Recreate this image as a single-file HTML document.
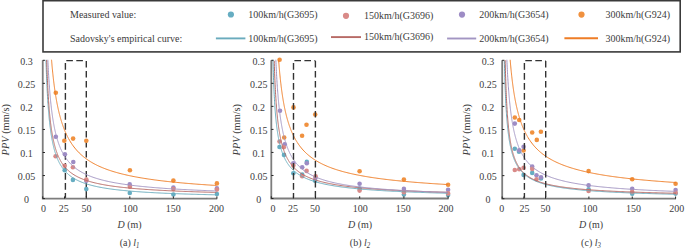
<!DOCTYPE html>
<html><head><meta charset="utf-8"><style>
html,body{margin:0;padding:0;background:#fff;}
svg{display:block;}
text{font-family:"Liberation Serif", serif;font-size:10px;fill:#3c3c3c;}
</style></head><body>
<svg width="685" height="249" viewBox="0 0 685 249">
<rect x="43" y="0.7" width="637.2" height="51.2" fill="none" stroke="#3a3a3a" stroke-width="1.6"/>
<text transform="translate(70,17.7) scale(1,1.07)" text-anchor="start" >Measured value:</text>
<text transform="translate(70,41.7) scale(1,1.07)" text-anchor="start" >Sadovsky's empirical curve:</text>
<circle cx="230.9" cy="14.5" r="3.1" fill="#66adc2"/>
<text transform="translate(248.2,17.9) scale(1,1.07)" text-anchor="start" >100km/h(G3695)</text>
<line x1="215.9" y1="38.4" x2="245.4" y2="38.4" stroke="#6aabbd" stroke-width="1.9"/>
<text transform="translate(248.2,41.9) scale(1,1.07)" text-anchor="start" >100km/h(G3695)</text>
<circle cx="346.0" cy="15.8" r="3.1" fill="#d98a88"/>
<text transform="translate(363.9,19.4) scale(1,1.07)" text-anchor="start" >150km/h(G3696)</text>
<line x1="331.0" y1="37.1" x2="361.0" y2="37.1" stroke="#b76a65" stroke-width="1.9"/>
<text transform="translate(363.9,40.2) scale(1,1.07)" text-anchor="start" >150km/h(G3696)</text>
<circle cx="462.0" cy="14.6" r="3.1" fill="#9d8cc5"/>
<text transform="translate(479.2,18.1) scale(1,1.07)" text-anchor="start" >200km/h(G3654)</text>
<line x1="447.1" y1="38.5" x2="476.2" y2="38.5" stroke="#a295c2" stroke-width="1.9"/>
<text transform="translate(479.2,42.0) scale(1,1.07)" text-anchor="start" >200km/h(G3654)</text>
<circle cx="581.5" cy="14.6" r="3.1" fill="#f0913f"/>
<text transform="translate(605.6,18.1) scale(1,1.07)" text-anchor="start" >300km/h(G924)</text>
<line x1="564.4" y1="38.3" x2="598.0" y2="38.3" stroke="#ee7d26" stroke-width="1.9"/>
<text transform="translate(605.6,42.0) scale(1,1.07)" text-anchor="start" >300km/h(G924)</text>
<clipPath id="ca"><rect x="42.75" y="59.8" width="175.15" height="138.8"/></clipPath>
<line x1="65.4" y1="60.599999999999994" x2="65.4" y2="198.6" fill="none" stroke="#333" stroke-width="1.4" stroke-dasharray="6.6,3.4" stroke-dashoffset="7.5"/><line x1="65.4" y1="60.599999999999994" x2="86.3" y2="60.599999999999994" fill="none" stroke="#333" stroke-width="1.4" stroke-dasharray="6.6,3.4" stroke-dashoffset="9.1"/><line x1="86.3" y1="60.599999999999994" x2="86.3" y2="198.6" fill="none" stroke="#333" stroke-width="1.4" stroke-dasharray="6.6,3.4" stroke-dashoffset="9.7"/>
<circle cx="55.8" cy="92.7" r="2.3" fill="#f0913f"/>
<circle cx="64.3" cy="140.7" r="2.3" fill="#f0913f"/>
<circle cx="73.1" cy="138.6" r="2.3" fill="#f0913f"/>
<circle cx="86.3" cy="140.8" r="2.3" fill="#f0913f"/>
<circle cx="129.9" cy="170.2" r="2.3" fill="#f0913f"/>
<circle cx="173.4" cy="180.6" r="2.3" fill="#f0913f"/>
<circle cx="216.9" cy="183.4" r="2.3" fill="#f0913f"/>
<circle cx="64.7" cy="170.3" r="2.3" fill="#66adc2"/>
<circle cx="72.9" cy="179.9" r="2.3" fill="#66adc2"/>
<circle cx="86.3" cy="189.1" r="2.3" fill="#66adc2"/>
<circle cx="129.8" cy="193.0" r="2.3" fill="#66adc2"/>
<circle cx="173.4" cy="194.5" r="2.3" fill="#66adc2"/>
<circle cx="216.9" cy="194.0" r="2.3" fill="#66adc2"/>
<circle cx="55.8" cy="136.7" r="2.3" fill="#9d8cc5"/>
<circle cx="64.9" cy="154.3" r="2.3" fill="#9d8cc5"/>
<circle cx="73.3" cy="162.0" r="2.3" fill="#9d8cc5"/>
<circle cx="86.3" cy="180.8" r="2.3" fill="#9d8cc5"/>
<circle cx="129.7" cy="184.4" r="2.3" fill="#9d8cc5"/>
<circle cx="173.4" cy="187.6" r="2.3" fill="#9d8cc5"/>
<circle cx="216.9" cy="188.4" r="2.3" fill="#9d8cc5"/>
<circle cx="55.6" cy="156.2" r="2.3" fill="#d98a88"/>
<circle cx="64.7" cy="165.8" r="2.3" fill="#d98a88"/>
<circle cx="72.9" cy="167.3" r="2.3" fill="#d98a88"/>
<circle cx="86.3" cy="179.6" r="2.3" fill="#d98a88"/>
<circle cx="129.9" cy="186.8" r="2.3" fill="#d98a88"/>
<circle cx="173.4" cy="189.1" r="2.3" fill="#d98a88"/>
<circle cx="216.9" cy="189.6" r="2.3" fill="#d98a88"/>
<polyline points="45.96,59.15 46.05,61.99 46.13,64.71 46.22,67.31 46.31,69.81 46.39,72.20 46.48,74.50 46.57,76.71 46.65,78.84 46.74,80.89 46.83,82.86 46.91,84.76 47.00,86.60 47.09,88.38 47.17,90.09 47.26,91.75 47.35,93.36 47.43,94.92 47.52,96.42 47.61,97.88 47.69,99.30 47.78,100.67 47.87,102.01 47.95,103.30 48.04,104.56 48.13,105.79 48.22,106.98 48.30,108.14 48.39,109.27 48.48,110.37 48.56,111.44 48.65,112.48 48.74,113.50 48.82,114.49 48.91,115.46 49.00,116.40 49.08,117.32 49.17,118.22 49.26,119.10 49.34,119.96 49.43,120.80 49.52,121.62 49.60,122.43 49.69,123.21 49.78,123.98 49.86,124.73 49.95,125.47 50.04,126.19 50.12,126.90 50.21,127.59 50.30,128.27 50.38,128.93 50.47,129.58 50.56,130.22 50.64,130.85 50.73,131.46 50.82,132.07 50.90,132.66 50.99,133.24 51.08,133.81 51.16,134.37 51.25,134.92 51.34,135.46 51.42,135.99 51.51,136.51 51.60,137.03 51.69,137.53 51.77,138.02 51.86,138.51 51.95,138.99 52.03,139.46 52.12,139.92 52.21,140.38 52.29,140.83 52.38,141.27 52.47,141.70 52.55,142.13 52.64,142.55 52.73,142.97 52.81,143.37 52.90,143.78 52.99,144.17 53.07,144.56 53.16,144.95 53.25,145.32 53.33,145.70 53.42,146.06 53.51,146.43 53.59,146.78 53.68,147.14 53.77,147.48 53.85,147.83 53.94,148.16 54.03,148.50 54.11,148.83 54.20,149.15 54.29,149.47 54.37,149.79 54.46,150.10 54.55,150.40 54.63,150.71 54.72,151.01 54.81,151.30 54.89,151.59 54.98,151.88 55.07,152.17 55.16,152.45 55.24,152.72 55.33,153.00 55.42,153.27 55.50,153.54 55.59,153.80 55.68,154.06 55.76,154.32 55.85,154.57 55.94,154.83 56.02,155.08 56.11,155.32 56.20,155.56 56.28,155.80 56.37,156.04 56.46,156.28 56.54,156.51 56.63,156.74 56.72,156.97 56.80,157.19 56.89,157.41 56.98,157.63 57.06,157.85 57.15,158.06 57.24,158.28 57.32,158.49 57.41,158.70 57.50,158.90 57.58,159.10 57.67,159.31 57.76,159.51 57.84,159.70 57.93,159.90 58.02,160.09 58.10,160.28 58.19,160.47 58.28,160.66 58.36,160.85 58.45,161.03 58.54,161.21 58.63,161.39 58.71,161.57 58.80,161.75 58.89,161.92 58.97,162.10 59.06,162.27 59.15,162.44 59.23,162.61 59.32,162.77 59.41,162.94 59.49,163.10 59.58,163.26 59.67,163.42 59.75,163.58 59.84,163.74 59.93,163.90 60.01,164.05 60.10,164.21 60.19,164.36 60.27,164.51 60.36,164.66 60.45,164.81 60.53,164.95 60.62,165.10 60.71,165.24 60.79,165.38 60.88,165.53 60.97,165.67 61.05,165.81 61.14,165.94 61.23,166.08 61.31,166.22 61.40,166.35 61.49,166.48 61.57,166.62 61.66,166.75 61.75,166.88 61.84,167.01 61.92,167.13 62.01,167.26 62.10,167.39 62.18,167.51 62.27,167.64 62.36,167.76 62.44,167.88 62.53,168.00 62.62,168.12 62.70,168.24 62.79,168.36 62.88,168.47 62.96,168.59 63.05,168.71 63.14,168.82 63.22,168.93 63.31,169.05 63.40,169.16 63.48,169.27 63.57,169.38 63.66,169.49 63.74,169.60 63.83,169.70 63.92,169.81 64.00,169.92 64.09,170.02 64.18,170.13 64.26,170.23 64.35,170.33 64.44,170.44 64.52,170.54 64.61,170.64 64.70,170.74 64.78,170.84 64.87,170.94 64.96,171.03 65.04,171.13 65.13,171.23 65.22,171.32 65.31,171.42 65.39,171.51 65.48,171.61 65.57,171.70 65.65,171.79 65.74,171.88 65.83,171.97 65.91,172.06 66.00,172.15 66.09,172.24 66.17,172.33 66.26,172.42 66.35,172.51 66.43,172.59 66.52,172.68 66.61,172.77 66.69,172.85 66.78,172.94 66.87,173.02 66.95,173.10 67.04,173.19 67.13,173.27 67.21,173.35 67.30,173.43 67.39,173.51 67.47,173.59 67.56,173.67 67.65,173.75 67.73,173.83 67.82,173.91 67.91,173.99 67.99,174.06 68.08,174.14 68.17,174.22 68.25,174.29 68.34,174.37 68.43,174.44 68.51,174.52 68.60,174.59 68.69,174.67 68.78,174.74 69.64,175.45 70.51,176.11 71.38,176.74 72.25,177.33 73.11,177.90 73.98,178.43 74.85,178.94 75.72,179.42 76.58,179.88 77.45,180.31 78.32,180.73 79.19,181.13 80.05,181.51 80.92,181.88 81.79,182.23 82.66,182.56 83.52,182.89 84.39,183.20 85.26,183.49 86.13,183.78 86.99,184.06 87.86,184.32 88.73,184.58 89.60,184.83 90.46,185.07 91.33,185.30 92.20,185.52 93.07,185.74 93.93,185.95 94.80,186.15 95.67,186.34 96.54,186.53 97.40,186.72 98.27,186.90 99.14,187.07 100.01,187.24 100.87,187.40 101.74,187.56 102.61,187.72 103.48,187.87 104.34,188.02 105.21,188.16 106.08,188.30 106.95,188.43 107.81,188.57 108.68,188.69 109.55,188.82 110.42,188.94 111.28,189.06 112.15,189.18 113.02,189.29 113.89,189.40 114.75,189.51 115.62,189.62 116.49,189.72 117.36,189.82 118.22,189.92 119.09,190.02 119.96,190.11 120.83,190.21 121.69,190.30 122.56,190.39 123.43,190.47 124.30,190.56 125.16,190.64 126.03,190.73 126.90,190.81 127.77,190.88 128.63,190.96 129.50,191.04 130.37,191.11 131.24,191.18 132.10,191.26 132.97,191.33 133.84,191.40 134.71,191.46 135.57,191.53 136.44,191.59 137.31,191.66 138.18,191.72 139.04,191.78 139.91,191.84 140.78,191.90 141.65,191.96 142.51,192.02 143.38,192.08 144.25,192.13 145.12,192.19 145.98,192.24 146.85,192.29 147.72,192.35 148.59,192.40 149.45,192.45 150.32,192.50 151.19,192.55 152.06,192.59 152.92,192.64 153.79,192.69 154.66,192.74 155.53,192.78 156.39,192.83 157.26,192.87 158.13,192.91 159.00,192.96 159.86,193.00 160.73,193.04 161.60,193.08 162.47,193.12 163.33,193.16 164.20,193.20 165.07,193.24 165.94,193.28 166.80,193.31 167.67,193.35 168.54,193.39 169.41,193.42 170.27,193.46 171.14,193.49 172.01,193.53 172.88,193.56 173.74,193.60 174.61,193.63 175.48,193.66 176.35,193.70 177.21,193.73 178.08,193.76 178.95,193.79 179.82,193.82 180.68,193.85 181.55,193.88 182.42,193.91 183.29,193.94 184.15,193.97 185.02,194.00 185.89,194.03 186.76,194.06 187.62,194.08 188.49,194.11 189.36,194.14 190.23,194.16 191.09,194.19 191.96,194.22 192.83,194.24 193.70,194.27 194.56,194.29 195.43,194.32 196.30,194.34 197.17,194.37 198.03,194.39 198.90,194.42 199.77,194.44 200.64,194.46 201.50,194.49 202.37,194.51 203.24,194.53 204.11,194.55 204.97,194.58 205.84,194.60 206.71,194.62 207.58,194.64 208.44,194.66 209.31,194.68 210.18,194.70 211.05,194.72 211.91,194.74 212.78,194.76 213.65,194.78 214.52,194.80 215.38,194.82 216.25,194.84" fill="none" stroke="#6aabbd" stroke-width="1.0" clip-path="url(#ca)"/>
<polyline points="46.65,59.70 46.74,62.36 46.83,64.91 46.91,67.36 47.00,69.72 47.09,71.98 47.17,74.16 47.26,76.26 47.35,78.28 47.43,80.23 47.52,82.12 47.61,83.94 47.69,85.70 47.78,87.40 47.87,89.04 47.95,90.64 48.04,92.18 48.13,93.68 48.22,95.13 48.30,96.53 48.39,97.90 48.48,99.23 48.56,100.52 48.65,101.77 48.74,102.99 48.82,104.17 48.91,105.33 49.00,106.45 49.08,107.55 49.17,108.61 49.26,109.65 49.34,110.66 49.43,111.65 49.52,112.61 49.60,113.55 49.69,114.47 49.78,115.37 49.86,116.25 49.95,117.10 50.04,117.94 50.12,118.76 50.21,119.56 50.30,120.34 50.38,121.10 50.47,121.85 50.56,122.59 50.64,123.30 50.73,124.01 50.82,124.70 50.90,125.37 50.99,126.03 51.08,126.68 51.16,127.32 51.25,127.94 51.34,128.55 51.42,129.15 51.51,129.74 51.60,130.32 51.69,130.89 51.77,131.44 51.86,131.99 51.95,132.53 52.03,133.06 52.12,133.58 52.21,134.08 52.29,134.59 52.38,135.08 52.47,135.56 52.55,136.04 52.64,136.51 52.73,136.97 52.81,137.42 52.90,137.86 52.99,138.30 53.07,138.73 53.16,139.16 53.25,139.58 53.33,139.99 53.42,140.39 53.51,140.79 53.59,141.19 53.68,141.57 53.77,141.95 53.85,142.33 53.94,142.70 54.03,143.06 54.11,143.42 54.20,143.78 54.29,144.13 54.37,144.47 54.46,144.81 54.55,145.15 54.63,145.48 54.72,145.80 54.81,146.13 54.89,146.44 54.98,146.76 55.07,147.06 55.16,147.37 55.24,147.67 55.33,147.97 55.42,148.26 55.50,148.55 55.59,148.83 55.68,149.12 55.76,149.40 55.85,149.67 55.94,149.94 56.02,150.21 56.11,150.48 56.20,150.74 56.28,151.00 56.37,151.25 56.46,151.50 56.54,151.75 56.63,152.00 56.72,152.24 56.80,152.48 56.89,152.72 56.98,152.96 57.06,153.19 57.15,153.42 57.24,153.65 57.32,153.87 57.41,154.10 57.50,154.32 57.58,154.53 57.67,154.75 57.76,154.96 57.84,155.17 57.93,155.38 58.02,155.59 58.10,155.79 58.19,155.99 58.28,156.19 58.36,156.39 58.45,156.58 58.54,156.78 58.63,156.97 58.71,157.16 58.80,157.35 58.89,157.53 58.97,157.72 59.06,157.90 59.15,158.08 59.23,158.26 59.32,158.43 59.41,158.61 59.49,158.78 59.58,158.95 59.67,159.12 59.75,159.29 59.84,159.46 59.93,159.62 60.01,159.79 60.10,159.95 60.19,160.11 60.27,160.27 60.36,160.43 60.45,160.58 60.53,160.74 60.62,160.89 60.71,161.04 60.79,161.19 60.88,161.34 60.97,161.49 61.05,161.64 61.14,161.78 61.23,161.93 61.31,162.07 61.40,162.21 61.49,162.35 61.57,162.49 61.66,162.63 61.75,162.76 61.84,162.90 61.92,163.03 62.01,163.17 62.10,163.30 62.18,163.43 62.27,163.56 62.36,163.69 62.44,163.82 62.53,163.94 62.62,164.07 62.70,164.19 62.79,164.32 62.88,164.44 62.96,164.56 63.05,164.68 63.14,164.80 63.22,164.92 63.31,165.04 63.40,165.16 63.48,165.27 63.57,165.39 63.66,165.50 63.74,165.62 63.83,165.73 63.92,165.84 64.00,165.95 64.09,166.06 64.18,166.17 64.26,166.28 64.35,166.38 64.44,166.49 64.52,166.60 64.61,166.70 64.70,166.81 64.78,166.91 64.87,167.01 64.96,167.12 65.04,167.22 65.13,167.32 65.22,167.42 65.31,167.52 65.39,167.61 65.48,167.71 65.57,167.81 65.65,167.91 65.74,168.00 65.83,168.10 65.91,168.19 66.00,168.28 66.09,168.38 66.17,168.47 66.26,168.56 66.35,168.65 66.43,168.74 66.52,168.83 66.61,168.92 66.69,169.01 66.78,169.10 66.87,169.19 66.95,169.27 67.04,169.36 67.13,169.45 67.21,169.53 67.30,169.62 67.39,169.70 67.47,169.78 67.56,169.87 67.65,169.95 67.73,170.03 67.82,170.11 67.91,170.19 67.99,170.27 68.08,170.35 68.17,170.43 68.25,170.51 68.34,170.59 68.43,170.67 68.51,170.75 68.60,170.82 68.69,170.90 68.78,170.97 69.64,171.71 70.51,172.40 71.38,173.05 72.25,173.67 73.11,174.25 73.98,174.81 74.85,175.33 75.72,175.83 76.58,176.31 77.45,176.76 78.32,177.20 79.19,177.61 80.05,178.01 80.92,178.39 81.79,178.75 82.66,179.10 83.52,179.44 84.39,179.76 85.26,180.07 86.13,180.37 86.99,180.66 87.86,180.94 88.73,181.20 89.60,181.46 90.46,181.71 91.33,181.96 92.20,182.19 93.07,182.42 93.93,182.64 94.80,182.85 95.67,183.06 96.54,183.26 97.40,183.45 98.27,183.64 99.14,183.82 100.01,184.00 100.87,184.18 101.74,184.35 102.61,184.51 103.48,184.67 104.34,184.83 105.21,184.98 106.08,185.13 106.95,185.27 107.81,185.41 108.68,185.55 109.55,185.68 110.42,185.82 111.28,185.94 112.15,186.07 113.02,186.19 113.89,186.31 114.75,186.43 115.62,186.54 116.49,186.65 117.36,186.76 118.22,186.87 119.09,186.97 119.96,187.08 120.83,187.18 121.69,187.28 122.56,187.37 123.43,187.47 124.30,187.56 125.16,187.65 126.03,187.74 126.90,187.83 127.77,187.92 128.63,188.00 129.50,188.08 130.37,188.17 131.24,188.25 132.10,188.32 132.97,188.40 133.84,188.48 134.71,188.55 135.57,188.62 136.44,188.70 137.31,188.77 138.18,188.84 139.04,188.91 139.91,188.97 140.78,189.04 141.65,189.10 142.51,189.17 143.38,189.23 144.25,189.29 145.12,189.36 145.98,189.42 146.85,189.48 147.72,189.53 148.59,189.59 149.45,189.65 150.32,189.70 151.19,189.76 152.06,189.81 152.92,189.87 153.79,189.92 154.66,189.97 155.53,190.02 156.39,190.07 157.26,190.12 158.13,190.17 159.00,190.22 159.86,190.27 160.73,190.32 161.60,190.36 162.47,190.41 163.33,190.46 164.20,190.50 165.07,190.54 165.94,190.59 166.80,190.63 167.67,190.67 168.54,190.72 169.41,190.76 170.27,190.80 171.14,190.84 172.01,190.88 172.88,190.92 173.74,190.96 174.61,191.00 175.48,191.03 176.35,191.07 177.21,191.11 178.08,191.15 178.95,191.18 179.82,191.22 180.68,191.25 181.55,191.29 182.42,191.32 183.29,191.36 184.15,191.39 185.02,191.43 185.89,191.46 186.76,191.49 187.62,191.52 188.49,191.56 189.36,191.59 190.23,191.62 191.09,191.65 191.96,191.68 192.83,191.71 193.70,191.74 194.56,191.77 195.43,191.80 196.30,191.83 197.17,191.86 198.03,191.89 198.90,191.92 199.77,191.95 200.64,191.97 201.50,192.00 202.37,192.03 203.24,192.05 204.11,192.08 204.97,192.11 205.84,192.13 206.71,192.16 207.58,192.19 208.44,192.21 209.31,192.24 210.18,192.26 211.05,192.29 211.91,192.31 212.78,192.34 213.65,192.36 214.52,192.38 215.38,192.41 216.25,192.43" fill="none" stroke="#b76a65" stroke-width="1.0" clip-path="url(#ca)"/>
<polyline points="47.78,58.49 47.87,60.41 47.95,62.27 48.04,64.08 48.13,65.83 48.22,67.53 48.30,69.19 48.39,70.80 48.48,72.37 48.56,73.89 48.65,75.37 48.74,76.82 48.82,78.22 48.91,79.60 49.00,80.93 49.08,82.24 49.17,83.51 49.26,84.75 49.34,85.97 49.43,87.15 49.52,88.31 49.60,89.44 49.69,90.55 49.78,91.63 49.86,92.69 49.95,93.72 50.04,94.73 50.12,95.72 50.21,96.69 50.30,97.64 50.38,98.57 50.47,99.49 50.56,100.38 50.64,101.25 50.73,102.11 50.82,102.96 50.90,103.78 50.99,104.59 51.08,105.39 51.16,106.17 51.25,106.93 51.34,107.68 51.42,108.42 51.51,109.15 51.60,109.86 51.69,110.56 51.77,111.25 51.86,111.93 51.95,112.59 52.03,113.24 52.12,113.89 52.21,114.52 52.29,115.14 52.38,115.75 52.47,116.35 52.55,116.94 52.64,117.53 52.73,118.10 52.81,118.67 52.90,119.22 52.99,119.77 53.07,120.31 53.16,120.84 53.25,121.36 53.33,121.88 53.42,122.39 53.51,122.89 53.59,123.38 53.68,123.87 53.77,124.34 53.85,124.82 53.94,125.28 54.03,125.74 54.11,126.20 54.20,126.64 54.29,127.08 54.37,127.52 54.46,127.95 54.55,128.37 54.63,128.79 54.72,129.20 54.81,129.61 54.89,130.01 54.98,130.41 55.07,130.80 55.16,131.19 55.24,131.57 55.33,131.94 55.42,132.32 55.50,132.68 55.59,133.05 55.68,133.41 55.76,133.76 55.85,134.11 55.94,134.46 56.02,134.80 56.11,135.14 56.20,135.47 56.28,135.80 56.37,136.13 56.46,136.45 56.54,136.77 56.63,137.09 56.72,137.40 56.80,137.71 56.89,138.01 56.98,138.31 57.06,138.61 57.15,138.91 57.24,139.20 57.32,139.49 57.41,139.77 57.50,140.06 57.58,140.34 57.67,140.61 57.76,140.89 57.84,141.16 57.93,141.43 58.02,141.69 58.10,141.96 58.19,142.22 58.28,142.47 58.36,142.73 58.45,142.98 58.54,143.23 58.63,143.48 58.71,143.72 58.80,143.97 58.89,144.21 58.97,144.44 59.06,144.68 59.15,144.91 59.23,145.14 59.32,145.37 59.41,145.60 59.49,145.82 59.58,146.05 59.67,146.27 59.75,146.49 59.84,146.70 59.93,146.92 60.01,147.13 60.10,147.34 60.19,147.55 60.27,147.76 60.36,147.96 60.45,148.16 60.53,148.37 60.62,148.57 60.71,148.76 60.79,148.96 60.88,149.15 60.97,149.35 61.05,149.54 61.14,149.73 61.23,149.92 61.31,150.10 61.40,150.29 61.49,150.47 61.57,150.65 61.66,150.83 61.75,151.01 61.84,151.19 61.92,151.36 62.01,151.54 62.10,151.71 62.18,151.88 62.27,152.05 62.36,152.22 62.44,152.39 62.53,152.56 62.62,152.72 62.70,152.88 62.79,153.05 62.88,153.21 62.96,153.37 63.05,153.53 63.14,153.68 63.22,153.84 63.31,153.99 63.40,154.15 63.48,154.30 63.57,154.45 63.66,154.60 63.74,154.75 63.83,154.90 63.92,155.05 64.00,155.19 64.09,155.34 64.18,155.48 64.26,155.62 64.35,155.76 64.44,155.90 64.52,156.04 64.61,156.18 64.70,156.32 64.78,156.46 64.87,156.59 64.96,156.73 65.04,156.86 65.13,156.99 65.22,157.13 65.31,157.26 65.39,157.39 65.48,157.52 65.57,157.64 65.65,157.77 65.74,157.90 65.83,158.02 65.91,158.15 66.00,158.27 66.09,158.40 66.17,158.52 66.26,158.64 66.35,158.76 66.43,158.88 66.52,159.00 66.61,159.12 66.69,159.23 66.78,159.35 66.87,159.47 66.95,159.58 67.04,159.70 67.13,159.81 67.21,159.92 67.30,160.04 67.39,160.15 67.47,160.26 67.56,160.37 67.65,160.48 67.73,160.59 67.82,160.69 67.91,160.80 67.99,160.91 68.08,161.01 68.17,161.12 68.25,161.22 68.34,161.33 68.43,161.43 68.51,161.54 68.60,161.64 68.69,161.74 68.78,161.84 69.64,162.82 70.51,163.74 71.38,164.61 72.25,165.44 73.11,166.22 73.98,166.96 74.85,167.67 75.72,168.34 76.58,168.98 77.45,169.59 78.32,170.18 79.19,170.73 80.05,171.27 80.92,171.78 81.79,172.28 82.66,172.75 83.52,173.20 84.39,173.64 85.26,174.06 86.13,174.47 86.99,174.86 87.86,175.24 88.73,175.60 89.60,175.96 90.46,176.30 91.33,176.63 92.20,176.95 93.07,177.26 93.93,177.56 94.80,177.85 95.67,178.13 96.54,178.40 97.40,178.67 98.27,178.93 99.14,179.18 100.01,179.42 100.87,179.66 101.74,179.89 102.61,180.11 103.48,180.33 104.34,180.55 105.21,180.75 106.08,180.96 106.95,181.15 107.81,181.35 108.68,181.54 109.55,181.72 110.42,181.90 111.28,182.08 112.15,182.25 113.02,182.41 113.89,182.58 114.75,182.74 115.62,182.90 116.49,183.05 117.36,183.20 118.22,183.35 119.09,183.49 119.96,183.63 120.83,183.77 121.69,183.90 122.56,184.04 123.43,184.17 124.30,184.29 125.16,184.42 126.03,184.54 126.90,184.66 127.77,184.78 128.63,184.90 129.50,185.01 130.37,185.12 131.24,185.23 132.10,185.34 132.97,185.45 133.84,185.55 134.71,185.65 135.57,185.75 136.44,185.85 137.31,185.95 138.18,186.05 139.04,186.14 139.91,186.23 140.78,186.32 141.65,186.41 142.51,186.50 143.38,186.59 144.25,186.67 145.12,186.76 145.98,186.84 146.85,186.92 147.72,187.00 148.59,187.08 149.45,187.16 150.32,187.24 151.19,187.31 152.06,187.39 152.92,187.46 153.79,187.53 154.66,187.60 155.53,187.67 156.39,187.74 157.26,187.81 158.13,187.88 159.00,187.95 159.86,188.01 160.73,188.08 161.60,188.14 162.47,188.20 163.33,188.27 164.20,188.33 165.07,188.39 165.94,188.45 166.80,188.51 167.67,188.57 168.54,188.62 169.41,188.68 170.27,188.74 171.14,188.79 172.01,188.85 172.88,188.90 173.74,188.95 174.61,189.01 175.48,189.06 176.35,189.11 177.21,189.16 178.08,189.21 178.95,189.26 179.82,189.31 180.68,189.36 181.55,189.41 182.42,189.46 183.29,189.50 184.15,189.55 185.02,189.60 185.89,189.64 186.76,189.69 187.62,189.73 188.49,189.77 189.36,189.82 190.23,189.86 191.09,189.90 191.96,189.95 192.83,189.99 193.70,190.03 194.56,190.07 195.43,190.11 196.30,190.15 197.17,190.19 198.03,190.23 198.90,190.27 199.77,190.31 200.64,190.34 201.50,190.38 202.37,190.42 203.24,190.45 204.11,190.49 204.97,190.53 205.84,190.56 206.71,190.60 207.58,190.63 208.44,190.67 209.31,190.70 210.18,190.74 211.05,190.77 211.91,190.80 212.78,190.84 213.65,190.87 214.52,190.90 215.38,190.94 216.25,190.97" fill="none" stroke="#a295c2" stroke-width="1.0" clip-path="url(#ca)"/>
<polyline points="51.42,58.45 51.51,59.52 51.60,60.57 51.69,61.60 51.77,62.62 51.86,63.62 51.95,64.60 52.03,65.57 52.12,66.52 52.21,67.46 52.29,68.38 52.38,69.28 52.47,70.18 52.55,71.05 52.64,71.92 52.73,72.77 52.81,73.61 52.90,74.43 52.99,75.25 53.07,76.05 53.16,76.84 53.25,77.62 53.33,78.39 53.42,79.14 53.51,79.89 53.59,80.62 53.68,81.35 53.77,82.06 53.85,82.77 53.94,83.46 54.03,84.15 54.11,84.83 54.20,85.49 54.29,86.15 54.37,86.80 54.46,87.44 54.55,88.08 54.63,88.70 54.72,89.32 54.81,89.93 54.89,90.53 54.98,91.13 55.07,91.71 55.16,92.29 55.24,92.87 55.33,93.43 55.42,93.99 55.50,94.54 55.59,95.09 55.68,95.63 55.76,96.16 55.85,96.69 55.94,97.21 56.02,97.72 56.11,98.23 56.20,98.74 56.28,99.23 56.37,99.73 56.46,100.21 56.54,100.69 56.63,101.17 56.72,101.64 56.80,102.10 56.89,102.57 56.98,103.02 57.06,103.47 57.15,103.92 57.24,104.36 57.32,104.79 57.41,105.23 57.50,105.65 57.58,106.08 57.67,106.50 57.76,106.91 57.84,107.32 57.93,107.73 58.02,108.13 58.10,108.53 58.19,108.92 58.28,109.31 58.36,109.70 58.45,110.08 58.54,110.46 58.63,110.83 58.71,111.21 58.80,111.57 58.89,111.94 58.97,112.30 59.06,112.66 59.15,113.01 59.23,113.36 59.32,113.71 59.41,114.06 59.49,114.40 59.58,114.74 59.67,115.07 59.75,115.40 59.84,115.73 59.93,116.06 60.01,116.38 60.10,116.70 60.19,117.02 60.27,117.34 60.36,117.65 60.45,117.96 60.53,118.27 60.62,118.57 60.71,118.87 60.79,119.17 60.88,119.47 60.97,119.76 61.05,120.06 61.14,120.35 61.23,120.63 61.31,120.92 61.40,121.20 61.49,121.48 61.57,121.76 61.66,122.03 61.75,122.31 61.84,122.58 61.92,122.85 62.01,123.11 62.10,123.38 62.18,123.64 62.27,123.90 62.36,124.16 62.44,124.42 62.53,124.67 62.62,124.92 62.70,125.17 62.79,125.42 62.88,125.67 62.96,125.91 63.05,126.16 63.14,126.40 63.22,126.64 63.31,126.87 63.40,127.11 63.48,127.34 63.57,127.58 63.66,127.81 63.74,128.04 63.83,128.26 63.92,128.49 64.00,128.71 64.09,128.94 64.18,129.16 64.26,129.38 64.35,129.59 64.44,129.81 64.52,130.03 64.61,130.24 64.70,130.45 64.78,130.66 64.87,130.87 64.96,131.08 65.04,131.28 65.13,131.49 65.22,131.69 65.31,131.89 65.39,132.09 65.48,132.29 65.57,132.49 65.65,132.69 65.74,132.88 65.83,133.07 65.91,133.27 66.00,133.46 66.09,133.65 66.17,133.84 66.26,134.02 66.35,134.21 66.43,134.40 66.52,134.58 66.61,134.76 66.69,134.94 66.78,135.12 66.87,135.30 66.95,135.48 67.04,135.66 67.13,135.83 67.21,136.01 67.30,136.18 67.39,136.36 67.47,136.53 67.56,136.70 67.65,136.87 67.73,137.03 67.82,137.20 67.91,137.37 67.99,137.53 68.08,137.70 68.17,137.86 68.25,138.02 68.34,138.18 68.43,138.35 68.51,138.50 68.60,138.66 68.69,138.82 68.78,138.98 69.64,140.49 70.51,141.93 71.38,143.28 72.25,144.57 73.11,145.79 73.98,146.95 74.85,148.05 75.72,149.10 76.58,150.11 77.45,151.06 78.32,151.98 79.19,152.86 80.05,153.70 80.92,154.51 81.79,155.29 82.66,156.04 83.52,156.75 84.39,157.45 85.26,158.11 86.13,158.76 86.99,159.38 87.86,159.98 88.73,160.55 89.60,161.11 90.46,161.66 91.33,162.18 92.20,162.69 93.07,163.18 93.93,163.66 94.80,164.12 95.67,164.57 96.54,165.01 97.40,165.44 98.27,165.85 99.14,166.25 100.01,166.64 100.87,167.02 101.74,167.39 102.61,167.75 103.48,168.10 104.34,168.45 105.21,168.78 106.08,169.11 106.95,169.43 107.81,169.74 108.68,170.04 109.55,170.34 110.42,170.63 111.28,170.91 112.15,171.18 113.02,171.46 113.89,171.72 114.75,171.98 115.62,172.23 116.49,172.48 117.36,172.72 118.22,172.96 119.09,173.20 119.96,173.42 120.83,173.65 121.69,173.87 122.56,174.08 123.43,174.29 124.30,174.50 125.16,174.70 126.03,174.90 126.90,175.10 127.77,175.29 128.63,175.48 129.50,175.67 130.37,175.85 131.24,176.03 132.10,176.20 132.97,176.38 133.84,176.55 134.71,176.71 135.57,176.88 136.44,177.04 137.31,177.20 138.18,177.35 139.04,177.51 139.91,177.66 140.78,177.81 141.65,177.95 142.51,178.10 143.38,178.24 144.25,178.38 145.12,178.52 145.98,178.65 146.85,178.79 147.72,178.92 148.59,179.05 149.45,179.18 150.32,179.30 151.19,179.43 152.06,179.55 152.92,179.67 153.79,179.79 154.66,179.91 155.53,180.02 156.39,180.13 157.26,180.25 158.13,180.36 159.00,180.47 159.86,180.58 160.73,180.68 161.60,180.79 162.47,180.89 163.33,180.99 164.20,181.10 165.07,181.20 165.94,181.29 166.80,181.39 167.67,181.49 168.54,181.58 169.41,181.68 170.27,181.77 171.14,181.86 172.01,181.95 172.88,182.04 173.74,182.13 174.61,182.22 175.48,182.30 176.35,182.39 177.21,182.47 178.08,182.56 178.95,182.64 179.82,182.72 180.68,182.80 181.55,182.88 182.42,182.96 183.29,183.04 184.15,183.12 185.02,183.19 185.89,183.27 186.76,183.34 187.62,183.42 188.49,183.49 189.36,183.56 190.23,183.63 191.09,183.70 191.96,183.77 192.83,183.84 193.70,183.91 194.56,183.98 195.43,184.05 196.30,184.11 197.17,184.18 198.03,184.24 198.90,184.31 199.77,184.37 200.64,184.43 201.50,184.50 202.37,184.56 203.24,184.62 204.11,184.68 204.97,184.74 205.84,184.80 206.71,184.86 207.58,184.92 208.44,184.98 209.31,185.03 210.18,185.09 211.05,185.15 211.91,185.20 212.78,185.26 213.65,185.31 214.52,185.37 215.38,185.42 216.25,185.47" fill="none" stroke="#ee7d26" stroke-width="1.0" clip-path="url(#ca)"/>
<path d="M42.75,60.3 V198.6 H217.2" fill="none" stroke="#7d7d7d" stroke-width="1.8"/>
<line x1="42.75" y1="198.60" x2="44.95" y2="198.60" stroke="#222" stroke-width="1"/>
<text transform="translate(26.6,203.10) scale(1,1.07)" text-anchor="middle" >0</text>
<line x1="42.75" y1="175.55" x2="44.95" y2="175.55" stroke="#222" stroke-width="1"/>
<text transform="translate(26.6,180.05) scale(1,1.07)" text-anchor="middle" >0.05</text>
<line x1="42.75" y1="152.50" x2="44.95" y2="152.50" stroke="#222" stroke-width="1"/>
<text transform="translate(26.6,157.00) scale(1,1.07)" text-anchor="middle" >0.1</text>
<line x1="42.75" y1="129.45" x2="44.95" y2="129.45" stroke="#222" stroke-width="1"/>
<text transform="translate(26.6,133.95) scale(1,1.07)" text-anchor="middle" >0.15</text>
<line x1="42.75" y1="106.40" x2="44.95" y2="106.40" stroke="#222" stroke-width="1"/>
<text transform="translate(26.6,110.90) scale(1,1.07)" text-anchor="middle" >0.2</text>
<line x1="42.75" y1="83.35" x2="44.95" y2="83.35" stroke="#222" stroke-width="1"/>
<text transform="translate(26.6,87.85) scale(1,1.07)" text-anchor="middle" >0.25</text>
<line x1="42.75" y1="60.30" x2="44.95" y2="60.30" stroke="#222" stroke-width="1"/>
<text transform="translate(26.6,64.80) scale(1,1.07)" text-anchor="middle" >0.3</text>
<line x1="42.75" y1="198.6" x2="42.75" y2="196.4" stroke="#222" stroke-width="1"/>
<text transform="translate(43.50,211.5) scale(1,1.07)" text-anchor="middle" >0</text>
<line x1="64.52" y1="198.6" x2="64.52" y2="196.4" stroke="#222" stroke-width="1"/>
<text transform="translate(63.80,211.5) scale(1,1.07)" text-anchor="middle" >25</text>
<line x1="86.29" y1="198.6" x2="86.29" y2="196.4" stroke="#222" stroke-width="1"/>
<text transform="translate(86.40,211.5) scale(1,1.07)" text-anchor="middle" >50</text>
<line x1="129.82" y1="198.6" x2="129.82" y2="196.4" stroke="#222" stroke-width="1"/>
<text transform="translate(130.20,211.5) scale(1,1.07)" text-anchor="middle" >100</text>
<line x1="173.36" y1="198.6" x2="173.36" y2="196.4" stroke="#222" stroke-width="1"/>
<text transform="translate(173.30,211.5) scale(1,1.07)" text-anchor="middle" >150</text>
<line x1="216.90" y1="198.6" x2="216.90" y2="196.4" stroke="#222" stroke-width="1"/>
<text transform="translate(216.40,211.5) scale(1,1.07)" text-anchor="middle" >200</text>
<text transform="translate(129.6,227.6) scale(1,1.07)" text-anchor="middle" ><tspan font-style="italic">D</tspan> (m)</text>
<text transform="translate(129.6,246.2) scale(1,1.07)" text-anchor="middle" >(a) <tspan font-style="italic">l</tspan><tspan font-style="italic" font-size="6.8" dy="2.0">1</tspan></text>
<text transform="translate(8.8,129.7) rotate(-90) scale(1.035,1.07)" text-anchor="middle"><tspan font-style="italic">PPV</tspan> (mm/s)</text>
<clipPath id="cb"><rect x="271.3" y="59.8" width="177.8" height="138.7"/></clipPath>
<circle cx="279.6" cy="59.8" r="2.3" fill="#f0913f"/>
<circle cx="293.5" cy="107.4" r="2.3" fill="#f0913f"/>
<circle cx="315.2" cy="114.5" r="2.3" fill="#f0913f"/>
<circle cx="306.5" cy="124.7" r="2.3" fill="#f0913f"/>
<circle cx="302.1" cy="135.7" r="2.3" fill="#f0913f"/>
<circle cx="284.2" cy="137.5" r="2.3" fill="#f0913f"/>
<circle cx="359.6" cy="171.2" r="2.3" fill="#f0913f"/>
<circle cx="403.9" cy="179.6" r="2.3" fill="#f0913f"/>
<circle cx="448.1" cy="184.8" r="2.3" fill="#f0913f"/>
<circle cx="279.5" cy="147.0" r="2.3" fill="#66adc2"/>
<circle cx="284.0" cy="154.9" r="2.3" fill="#66adc2"/>
<circle cx="293.3" cy="173.3" r="2.3" fill="#66adc2"/>
<circle cx="302.2" cy="174.5" r="2.3" fill="#66adc2"/>
<circle cx="306.8" cy="161.9" r="2.3" fill="#66adc2"/>
<circle cx="315.1" cy="180.8" r="2.3" fill="#66adc2"/>
<circle cx="359.6" cy="188.5" r="2.3" fill="#66adc2"/>
<circle cx="403.9" cy="194.5" r="2.3" fill="#66adc2"/>
<circle cx="448.1" cy="195.1" r="2.3" fill="#66adc2"/>
<circle cx="280.0" cy="110.7" r="2.3" fill="#9d8cc5"/>
<circle cx="284.7" cy="144.2" r="2.3" fill="#9d8cc5"/>
<circle cx="293.3" cy="163.2" r="2.3" fill="#9d8cc5"/>
<circle cx="302.2" cy="167.2" r="2.3" fill="#9d8cc5"/>
<circle cx="306.8" cy="163.3" r="2.3" fill="#9d8cc5"/>
<circle cx="315.4" cy="178.0" r="2.3" fill="#9d8cc5"/>
<circle cx="359.6" cy="183.7" r="2.3" fill="#9d8cc5"/>
<circle cx="403.9" cy="188.9" r="2.3" fill="#9d8cc5"/>
<circle cx="448.1" cy="189.7" r="2.3" fill="#9d8cc5"/>
<circle cx="279.5" cy="141.5" r="2.3" fill="#d98a88"/>
<circle cx="283.8" cy="147.2" r="2.3" fill="#d98a88"/>
<circle cx="293.3" cy="165.6" r="2.3" fill="#d98a88"/>
<circle cx="302.2" cy="176.2" r="2.3" fill="#d98a88"/>
<circle cx="306.6" cy="170.9" r="2.3" fill="#d98a88"/>
<circle cx="315.6" cy="176.2" r="2.3" fill="#d98a88"/>
<circle cx="359.6" cy="190.6" r="2.3" fill="#d98a88"/>
<circle cx="403.9" cy="192.2" r="2.3" fill="#d98a88"/>
<circle cx="448.1" cy="193.4" r="2.3" fill="#d98a88"/>
<polyline points="272.97,59.12 273.06,62.75 273.15,66.15 273.24,69.33 273.33,72.32 273.42,75.13 273.50,77.79 273.59,80.31 273.68,82.69 273.77,84.96 273.86,87.12 273.94,89.17 274.03,91.13 274.12,93.01 274.21,94.80 274.30,96.52 274.39,98.17 274.47,99.75 274.56,101.27 274.65,102.74 274.74,104.15 274.83,105.51 274.91,106.82 275.00,108.09 275.09,109.31 275.18,110.50 275.27,111.64 275.35,112.75 275.44,113.83 275.53,114.87 275.62,115.89 275.71,116.87 275.80,117.82 275.88,118.75 275.97,119.65 276.06,120.53 276.15,121.38 276.24,122.22 276.32,123.03 276.41,123.81 276.50,124.58 276.59,125.34 276.68,126.07 276.77,126.78 276.85,127.48 276.94,128.16 277.03,128.83 277.12,129.48 277.21,130.12 277.29,130.74 277.38,131.35 277.47,131.95 277.56,132.53 277.65,133.11 277.73,133.67 277.82,134.22 277.91,134.75 278.00,135.28 278.09,135.80 278.18,136.30 278.26,136.80 278.35,137.29 278.44,137.77 278.53,138.24 278.62,138.70 278.70,139.16 278.79,139.60 278.88,140.04 278.97,140.47 279.06,140.89 279.15,141.31 279.23,141.71 279.32,142.12 279.41,142.51 279.50,142.90 279.59,143.28 279.67,143.66 279.76,144.03 279.85,144.39 279.94,144.75 280.03,145.10 280.12,145.45 280.20,145.79 280.29,146.13 280.38,146.46 280.47,146.79 280.56,147.11 280.64,147.43 280.73,147.75 280.82,148.05 280.91,148.36 281.00,148.66 281.08,148.96 281.17,149.25 281.26,149.54 281.35,149.82 281.44,150.10 281.53,150.38 281.61,150.65 281.70,150.92 281.79,151.19 281.88,151.45 281.97,151.71 282.05,151.96 282.14,152.22 282.23,152.47 282.32,152.71 282.41,152.96 282.50,153.20 282.58,153.44 282.67,153.67 282.76,153.90 282.85,154.13 282.94,154.36 283.02,154.58 283.11,154.80 283.20,155.02 283.29,155.24 283.38,155.45 283.46,155.66 283.55,155.87 283.64,156.08 283.73,156.28 283.82,156.49 283.91,156.69 283.99,156.88 284.08,157.08 284.17,157.27 284.26,157.46 284.35,157.65 284.43,157.84 284.52,158.03 284.61,158.21 284.70,158.39 284.79,158.57 284.88,158.75 284.96,158.93 285.05,159.10 285.14,159.27 285.23,159.44 285.32,159.61 285.40,159.78 285.49,159.95 285.58,160.11 285.67,160.27 285.76,160.43 285.84,160.59 285.93,160.75 286.02,160.91 286.11,161.06 286.20,161.22 286.29,161.37 286.37,161.52 286.46,161.67 286.55,161.82 286.64,161.97 286.73,162.11 286.81,162.26 286.90,162.40 286.99,162.54 287.08,162.68 287.17,162.82 287.26,162.96 287.34,163.09 287.43,163.23 287.52,163.36 287.61,163.50 287.70,163.63 287.78,163.76 287.87,163.89 287.96,164.02 288.05,164.15 288.14,164.27 288.22,164.40 288.31,164.52 288.40,164.65 288.49,164.77 288.58,164.89 288.67,165.01 288.75,165.13 288.84,165.25 288.93,165.37 289.02,165.48 289.11,165.60 289.19,165.72 289.28,165.83 289.37,165.94 289.46,166.05 289.55,166.17 289.64,166.28 289.72,166.39 289.81,166.50 289.90,166.60 289.99,166.71 290.08,166.82 290.16,166.92 290.25,167.03 290.34,167.13 290.43,167.23 290.52,167.34 290.60,167.44 290.69,167.54 290.78,167.64 290.87,167.74 290.96,167.84 291.05,167.94 291.13,168.03 291.22,168.13 291.31,168.23 291.40,168.32 291.49,168.42 291.57,168.51 291.66,168.60 291.75,168.70 291.84,168.79 291.93,168.88 292.02,168.97 292.10,169.06 292.19,169.15 292.28,169.24 292.37,169.33 292.46,169.42 292.54,169.50 292.63,169.59 292.72,169.68 292.81,169.76 292.90,169.85 292.98,169.93 293.07,170.02 293.16,170.10 293.25,170.18 293.34,170.26 293.43,170.35 293.51,170.43 293.60,170.51 293.69,170.59 293.78,170.67 293.87,170.75 293.95,170.83 294.04,170.90 294.13,170.98 294.22,171.06 294.31,171.14 294.40,171.21 294.48,171.29 294.57,171.36 294.66,171.44 294.75,171.51 294.84,171.59 294.92,171.66 295.01,171.73 295.10,171.80 295.19,171.88 295.28,171.95 295.36,172.02 295.45,172.09 295.54,172.16 295.63,172.23 295.72,172.30 295.81,172.37 295.89,172.44 295.98,172.51 296.07,172.58 296.16,172.64 296.25,172.71 296.33,172.78 296.42,172.84 296.51,172.91 296.60,172.98 296.69,173.04 296.78,173.11 296.86,173.17 296.95,173.23 297.04,173.30 297.13,173.36 297.22,173.43 297.30,173.49 297.39,173.55 297.48,173.61 297.57,173.67 297.66,173.74 297.75,173.80 298.63,174.39 299.51,174.95 300.39,175.49 301.27,176.00 302.15,176.48 303.03,176.95 303.92,177.39 304.80,177.81 305.68,178.22 306.56,178.60 307.44,178.98 308.32,179.33 309.20,179.68 310.09,180.01 310.97,180.33 311.85,180.63 312.73,180.93 313.61,181.21 314.49,181.49 315.38,181.75 316.26,182.01 317.14,182.26 318.02,182.50 318.90,182.74 319.78,182.96 320.66,183.18 321.55,183.39 322.43,183.60 323.31,183.80 324.19,184.00 325.07,184.19 325.95,184.37 326.83,184.55 327.72,184.73 328.60,184.90 329.48,185.06 330.36,185.22 331.24,185.38 332.12,185.53 333.01,185.68 333.89,185.83 334.77,185.97 335.65,186.11 336.53,186.25 337.41,186.38 338.29,186.51 339.18,186.64 340.06,186.76 340.94,186.88 341.82,187.00 342.70,187.12 343.58,187.23 344.46,187.34 345.35,187.45 346.23,187.56 347.11,187.67 347.99,187.77 348.87,187.87 349.75,187.97 350.64,188.06 351.52,188.16 352.40,188.25 353.28,188.34 354.16,188.43 355.04,188.52 355.92,188.61 356.81,188.69 357.69,188.78 358.57,188.86 359.45,188.94 360.33,189.02 361.21,189.10 362.09,189.17 362.98,189.25 363.86,189.32 364.74,189.40 365.62,189.47 366.50,189.54 367.38,189.61 368.27,189.67 369.15,189.74 370.03,189.81 370.91,189.87 371.79,189.94 372.67,190.00 373.55,190.06 374.44,190.12 375.32,190.18 376.20,190.24 377.08,190.30 377.96,190.36 378.84,190.41 379.72,190.47 380.61,190.53 381.49,190.58 382.37,190.63 383.25,190.69 384.13,190.74 385.01,190.79 385.90,190.84 386.78,190.89 387.66,190.94 388.54,190.99 389.42,191.04 390.30,191.08 391.18,191.13 392.07,191.18 392.95,191.22 393.83,191.27 394.71,191.31 395.59,191.36 396.47,191.40 397.35,191.44 398.24,191.48 399.12,191.53 400.00,191.57 400.88,191.61 401.76,191.65 402.64,191.69 403.53,191.73 404.41,191.77 405.29,191.81 406.17,191.84 407.05,191.88 407.93,191.92 408.81,191.95 409.70,191.99 410.58,192.03 411.46,192.06 412.34,192.10 413.22,192.13 414.10,192.17 414.98,192.20 415.87,192.23 416.75,192.27 417.63,192.30 418.51,192.33 419.39,192.36 420.27,192.39 421.16,192.43 422.04,192.46 422.92,192.49 423.80,192.52 424.68,192.55 425.56,192.58 426.44,192.61 427.33,192.64 428.21,192.67 429.09,192.69 429.97,192.72 430.85,192.75 431.73,192.78 432.61,192.81 433.50,192.83 434.38,192.86 435.26,192.89 436.14,192.91 437.02,192.94 437.90,192.97 438.79,192.99 439.67,193.02 440.55,193.04 441.43,193.07 442.31,193.09 443.19,193.12 444.07,193.14 444.96,193.16 445.84,193.19 446.72,193.21 447.60,193.24" fill="none" stroke="#6aabbd" stroke-width="1.0" clip-path="url(#cb)"/>
<polyline points="274.21,60.81 274.30,63.66 274.39,66.37 274.47,68.95 274.56,71.42 274.65,73.78 274.74,76.04 274.83,78.21 274.91,80.29 275.00,82.28 275.09,84.20 275.18,86.04 275.27,87.82 275.35,89.53 275.44,91.18 275.53,92.77 275.62,94.31 275.71,95.79 275.80,97.23 275.88,98.62 275.97,99.97 276.06,101.27 276.15,102.54 276.24,103.76 276.32,104.96 276.41,106.11 276.50,107.24 276.59,108.33 276.68,109.39 276.77,110.42 276.85,111.43 276.94,112.41 277.03,113.36 277.12,114.29 277.21,115.20 277.29,116.08 277.38,116.94 277.47,117.78 277.56,118.61 277.65,119.41 277.73,120.19 277.82,120.96 277.91,121.71 278.00,122.44 278.09,123.15 278.18,123.85 278.26,124.54 278.35,125.21 278.44,125.87 278.53,126.51 278.62,127.14 278.70,127.76 278.79,128.36 278.88,128.96 278.97,129.54 279.06,130.11 279.15,130.67 279.23,131.22 279.32,131.76 279.41,132.29 279.50,132.81 279.59,133.32 279.67,133.82 279.76,134.31 279.85,134.79 279.94,135.27 280.03,135.74 280.12,136.20 280.20,136.65 280.29,137.09 280.38,137.53 280.47,137.96 280.56,138.38 280.64,138.80 280.73,139.21 280.82,139.61 280.91,140.01 281.00,140.40 281.08,140.78 281.17,141.16 281.26,141.53 281.35,141.90 281.44,142.26 281.53,142.62 281.61,142.97 281.70,143.32 281.79,143.66 281.88,143.99 281.97,144.33 282.05,144.65 282.14,144.98 282.23,145.29 282.32,145.61 282.41,145.92 282.50,146.22 282.58,146.53 282.67,146.82 282.76,147.12 282.85,147.41 282.94,147.69 283.02,147.98 283.11,148.25 283.20,148.53 283.29,148.80 283.38,149.07 283.46,149.34 283.55,149.60 283.64,149.86 283.73,150.11 283.82,150.36 283.91,150.61 283.99,150.86 284.08,151.10 284.17,151.35 284.26,151.58 284.35,151.82 284.43,152.05 284.52,152.28 284.61,152.51 284.70,152.73 284.79,152.96 284.88,153.18 284.96,153.39 285.05,153.61 285.14,153.82 285.23,154.03 285.32,154.24 285.40,154.45 285.49,154.65 285.58,154.85 285.67,155.05 285.76,155.25 285.84,155.44 285.93,155.64 286.02,155.83 286.11,156.02 286.20,156.21 286.29,156.39 286.37,156.57 286.46,156.76 286.55,156.94 286.64,157.12 286.73,157.29 286.81,157.47 286.90,157.64 286.99,157.81 287.08,157.98 287.17,158.15 287.26,158.32 287.34,158.48 287.43,158.64 287.52,158.81 287.61,158.97 287.70,159.13 287.78,159.28 287.87,159.44 287.96,159.60 288.05,159.75 288.14,159.90 288.22,160.05 288.31,160.20 288.40,160.35 288.49,160.50 288.58,160.64 288.67,160.79 288.75,160.93 288.84,161.07 288.93,161.21 289.02,161.35 289.11,161.49 289.19,161.62 289.28,161.76 289.37,161.89 289.46,162.03 289.55,162.16 289.64,162.29 289.72,162.42 289.81,162.55 289.90,162.68 289.99,162.81 290.08,162.93 290.16,163.06 290.25,163.18 290.34,163.30 290.43,163.43 290.52,163.55 290.60,163.67 290.69,163.79 290.78,163.91 290.87,164.02 290.96,164.14 291.05,164.25 291.13,164.37 291.22,164.48 291.31,164.60 291.40,164.71 291.49,164.82 291.57,164.93 291.66,165.04 291.75,165.15 291.84,165.26 291.93,165.36 292.02,165.47 292.10,165.58 292.19,165.68 292.28,165.79 292.37,165.89 292.46,165.99 292.54,166.09 292.63,166.19 292.72,166.29 292.81,166.39 292.90,166.49 292.98,166.59 293.07,166.69 293.16,166.79 293.25,166.88 293.34,166.98 293.43,167.07 293.51,167.17 293.60,167.26 293.69,167.35 293.78,167.45 293.87,167.54 293.95,167.63 294.04,167.72 294.13,167.81 294.22,167.90 294.31,167.99 294.40,168.08 294.48,168.17 294.57,168.25 294.66,168.34 294.75,168.42 294.84,168.51 294.92,168.59 295.01,168.68 295.10,168.76 295.19,168.85 295.28,168.93 295.36,169.01 295.45,169.09 295.54,169.17 295.63,169.25 295.72,169.33 295.81,169.41 295.89,169.49 295.98,169.57 296.07,169.65 296.16,169.73 296.25,169.81 296.33,169.88 296.42,169.96 296.51,170.03 296.60,170.11 296.69,170.18 296.78,170.26 296.86,170.33 296.95,170.41 297.04,170.48 297.13,170.55 297.22,170.63 297.30,170.70 297.39,170.77 297.48,170.84 297.57,170.91 297.66,170.98 297.75,171.05 298.63,171.73 299.51,172.37 300.39,172.97 301.27,173.55 302.15,174.10 303.03,174.62 303.92,175.11 304.80,175.59 305.68,176.04 306.56,176.47 307.44,176.89 308.32,177.28 309.20,177.66 310.09,178.03 310.97,178.38 311.85,178.72 312.73,179.05 313.61,179.36 314.49,179.66 315.38,179.96 316.26,180.24 317.14,180.51 318.02,180.77 318.90,181.03 319.78,181.28 320.66,181.52 321.55,181.75 322.43,181.97 323.31,182.19 324.19,182.40 325.07,182.61 325.95,182.81 326.83,183.01 327.72,183.19 328.60,183.38 329.48,183.56 330.36,183.73 331.24,183.90 332.12,184.07 333.01,184.23 333.89,184.39 334.77,184.54 335.65,184.69 336.53,184.84 337.41,184.98 338.29,185.12 339.18,185.26 340.06,185.39 340.94,185.52 341.82,185.65 342.70,185.77 343.58,185.90 344.46,186.02 345.35,186.13 346.23,186.25 347.11,186.36 347.99,186.47 348.87,186.58 349.75,186.68 350.64,186.79 351.52,186.89 352.40,186.99 353.28,187.09 354.16,187.18 355.04,187.28 355.92,187.37 356.81,187.46 357.69,187.55 358.57,187.64 359.45,187.72 360.33,187.81 361.21,187.89 362.09,187.97 362.98,188.05 363.86,188.13 364.74,188.21 365.62,188.28 366.50,188.36 367.38,188.43 368.27,188.51 369.15,188.58 370.03,188.65 370.91,188.72 371.79,188.79 372.67,188.85 373.55,188.92 374.44,188.98 375.32,189.05 376.20,189.11 377.08,189.17 377.96,189.24 378.84,189.30 379.72,189.36 380.61,189.41 381.49,189.47 382.37,189.53 383.25,189.59 384.13,189.64 385.01,189.70 385.90,189.75 386.78,189.80 387.66,189.86 388.54,189.91 389.42,189.96 390.30,190.01 391.18,190.06 392.07,190.11 392.95,190.16 393.83,190.20 394.71,190.25 395.59,190.30 396.47,190.34 397.35,190.39 398.24,190.44 399.12,190.48 400.00,190.52 400.88,190.57 401.76,190.61 402.64,190.65 403.53,190.69 404.41,190.74 405.29,190.78 406.17,190.82 407.05,190.86 407.93,190.90 408.81,190.94 409.70,190.97 410.58,191.01 411.46,191.05 412.34,191.09 413.22,191.12 414.10,191.16 414.98,191.20 415.87,191.23 416.75,191.27 417.63,191.30 418.51,191.34 419.39,191.37 420.27,191.41 421.16,191.44 422.04,191.47 422.92,191.51 423.80,191.54 424.68,191.57 425.56,191.60 426.44,191.63 427.33,191.66 428.21,191.70 429.09,191.73 429.97,191.76 430.85,191.79 431.73,191.82 432.61,191.85 433.50,191.87 434.38,191.90 435.26,191.93 436.14,191.96 437.02,191.99 437.90,192.02 438.79,192.04 439.67,192.07 440.55,192.10 441.43,192.12 442.31,192.15 443.19,192.18 444.07,192.20 444.96,192.23 445.84,192.25 446.72,192.28 447.60,192.30" fill="none" stroke="#b76a65" stroke-width="1.0" clip-path="url(#cb)"/>
<polyline points="275.80,58.51 275.88,60.56 275.97,62.54 276.06,64.46 276.15,66.32 276.24,68.12 276.32,69.87 276.41,71.57 276.50,73.22 276.59,74.83 276.68,76.39 276.77,77.90 276.85,79.38 276.94,80.81 277.03,82.21 277.12,83.57 277.21,84.90 277.29,86.19 277.38,87.45 277.47,88.69 277.56,89.89 277.65,91.06 277.73,92.20 277.82,93.32 277.91,94.42 278.00,95.49 278.09,96.53 278.18,97.55 278.26,98.55 278.35,99.53 278.44,100.49 278.53,101.43 278.62,102.34 278.70,103.24 278.79,104.12 278.88,104.99 278.97,105.83 279.06,106.66 279.15,107.48 279.23,108.28 279.32,109.06 279.41,109.83 279.50,110.58 279.59,111.32 279.67,112.05 279.76,112.76 279.85,113.46 279.94,114.15 280.03,114.83 280.12,115.49 280.20,116.15 280.29,116.79 280.38,117.42 280.47,118.04 280.56,118.65 280.64,119.25 280.73,119.85 280.82,120.43 280.91,121.00 281.00,121.56 281.08,122.12 281.17,122.66 281.26,123.20 281.35,123.73 281.44,124.25 281.53,124.77 281.61,125.27 281.70,125.77 281.79,126.26 281.88,126.75 281.97,127.22 282.05,127.70 282.14,128.16 282.23,128.62 282.32,129.07 282.41,129.51 282.50,129.95 282.58,130.38 282.67,130.81 282.76,131.23 282.85,131.65 282.94,132.06 283.02,132.46 283.11,132.86 283.20,133.25 283.29,133.64 283.38,134.03 283.46,134.41 283.55,134.78 283.64,135.15 283.73,135.52 283.82,135.88 283.91,136.23 283.99,136.59 284.08,136.93 284.17,137.28 284.26,137.62 284.35,137.95 284.43,138.28 284.52,138.61 284.61,138.93 284.70,139.25 284.79,139.57 284.88,139.88 284.96,140.19 285.05,140.50 285.14,140.80 285.23,141.10 285.32,141.40 285.40,141.69 285.49,141.98 285.58,142.26 285.67,142.55 285.76,142.83 285.84,143.10 285.93,143.38 286.02,143.65 286.11,143.92 286.20,144.18 286.29,144.45 286.37,144.71 286.46,144.96 286.55,145.22 286.64,145.47 286.73,145.72 286.81,145.97 286.90,146.21 286.99,146.46 287.08,146.70 287.17,146.93 287.26,147.17 287.34,147.40 287.43,147.63 287.52,147.86 287.61,148.09 287.70,148.31 287.78,148.53 287.87,148.75 287.96,148.97 288.05,149.19 288.14,149.40 288.22,149.61 288.31,149.82 288.40,150.03 288.49,150.24 288.58,150.44 288.67,150.65 288.75,150.85 288.84,151.05 288.93,151.24 289.02,151.44 289.11,151.63 289.19,151.82 289.28,152.01 289.37,152.20 289.46,152.39 289.55,152.58 289.64,152.76 289.72,152.94 289.81,153.12 289.90,153.30 289.99,153.48 290.08,153.66 290.16,153.83 290.25,154.01 290.34,154.18 290.43,154.35 290.52,154.52 290.60,154.69 290.69,154.85 290.78,155.02 290.87,155.18 290.96,155.34 291.05,155.51 291.13,155.67 291.22,155.82 291.31,155.98 291.40,156.14 291.49,156.29 291.57,156.45 291.66,156.60 291.75,156.75 291.84,156.90 291.93,157.05 292.02,157.20 292.10,157.35 292.19,157.49 292.28,157.64 292.37,157.78 292.46,157.92 292.54,158.06 292.63,158.20 292.72,158.34 292.81,158.48 292.90,158.62 292.98,158.76 293.07,158.89 293.16,159.03 293.25,159.16 293.34,159.29 293.43,159.42 293.51,159.56 293.60,159.69 293.69,159.81 293.78,159.94 293.87,160.07 293.95,160.20 294.04,160.32 294.13,160.45 294.22,160.57 294.31,160.69 294.40,160.81 294.48,160.94 294.57,161.06 294.66,161.18 294.75,161.29 294.84,161.41 294.92,161.53 295.01,161.65 295.10,161.76 295.19,161.88 295.28,161.99 295.36,162.10 295.45,162.22 295.54,162.33 295.63,162.44 295.72,162.55 295.81,162.66 295.89,162.77 295.98,162.88 296.07,162.98 296.16,163.09 296.25,163.20 296.33,163.30 296.42,163.41 296.51,163.51 296.60,163.62 296.69,163.72 296.78,163.82 296.86,163.92 296.95,164.02 297.04,164.12 297.13,164.22 297.22,164.32 297.30,164.42 297.39,164.52 297.48,164.62 297.57,164.71 297.66,164.81 297.75,164.91 298.63,165.83 299.51,166.71 300.39,167.54 301.27,168.32 302.15,169.06 303.03,169.77 303.92,170.44 304.80,171.08 305.68,171.69 306.56,172.27 307.44,172.82 308.32,173.36 309.20,173.87 310.09,174.35 310.97,174.82 311.85,175.27 312.73,175.71 313.61,176.12 314.49,176.52 315.38,176.91 316.26,177.28 317.14,177.64 318.02,177.99 318.90,178.32 319.78,178.65 320.66,178.96 321.55,179.27 322.43,179.56 323.31,179.84 324.19,180.12 325.07,180.39 325.95,180.65 326.83,180.90 327.72,181.15 328.60,181.38 329.48,181.62 330.36,181.84 331.24,182.06 332.12,182.27 333.01,182.48 333.89,182.68 334.77,182.88 335.65,183.07 336.53,183.26 337.41,183.44 338.29,183.62 339.18,183.79 340.06,183.96 340.94,184.13 341.82,184.29 342.70,184.45 343.58,184.60 344.46,184.76 345.35,184.90 346.23,185.05 347.11,185.19 347.99,185.33 348.87,185.46 349.75,185.60 350.64,185.73 351.52,185.85 352.40,185.98 353.28,186.10 354.16,186.22 355.04,186.34 355.92,186.45 356.81,186.57 357.69,186.68 358.57,186.79 359.45,186.89 360.33,187.00 361.21,187.10 362.09,187.20 362.98,187.30 363.86,187.40 364.74,187.50 365.62,187.59 366.50,187.68 367.38,187.77 368.27,187.86 369.15,187.95 370.03,188.04 370.91,188.12 371.79,188.21 372.67,188.29 373.55,188.37 374.44,188.45 375.32,188.53 376.20,188.60 377.08,188.68 377.96,188.76 378.84,188.83 379.72,188.90 380.61,188.97 381.49,189.04 382.37,189.11 383.25,189.18 384.13,189.25 385.01,189.31 385.90,189.38 386.78,189.44 387.66,189.51 388.54,189.57 389.42,189.63 390.30,189.69 391.18,189.75 392.07,189.81 392.95,189.87 393.83,189.93 394.71,189.98 395.59,190.04 396.47,190.10 397.35,190.15 398.24,190.20 399.12,190.26 400.00,190.31 400.88,190.36 401.76,190.41 402.64,190.46 403.53,190.51 404.41,190.56 405.29,190.61 406.17,190.66 407.05,190.71 407.93,190.75 408.81,190.80 409.70,190.85 410.58,190.89 411.46,190.93 412.34,190.98 413.22,191.02 414.10,191.07 414.98,191.11 415.87,191.15 416.75,191.19 417.63,191.23 418.51,191.27 419.39,191.31 420.27,191.35 421.16,191.39 422.04,191.43 422.92,191.47 423.80,191.51 424.68,191.55 425.56,191.58 426.44,191.62 427.33,191.66 428.21,191.69 429.09,191.73 429.97,191.76 430.85,191.80 431.73,191.83 432.61,191.87 433.50,191.90 434.38,191.93 435.26,191.97 436.14,192.00 437.02,192.03 437.90,192.07 438.79,192.10 439.67,192.13 440.55,192.16 441.43,192.19 442.31,192.22 443.19,192.25 444.07,192.28 444.96,192.31 445.84,192.34 446.72,192.37 447.60,192.40" fill="none" stroke="#a295c2" stroke-width="1.0" clip-path="url(#cb)"/>
<polyline points="278.53,58.57 278.62,59.76 278.70,60.94 278.79,62.09 278.88,63.22 278.97,64.33 279.06,65.41 279.15,66.47 279.23,67.52 279.32,68.54 279.41,69.55 279.50,70.54 279.59,71.51 279.67,72.46 279.76,73.39 279.85,74.31 279.94,75.21 280.03,76.10 280.12,76.97 280.20,77.83 280.29,78.67 280.38,79.50 280.47,80.32 280.56,81.12 280.64,81.91 280.73,82.69 280.82,83.45 280.91,84.20 281.00,84.95 281.08,85.67 281.17,86.39 281.26,87.10 281.35,87.80 281.44,88.48 281.53,89.16 281.61,89.83 281.70,90.49 281.79,91.13 281.88,91.77 281.97,92.40 282.05,93.02 282.14,93.63 282.23,94.24 282.32,94.83 282.41,95.42 282.50,96.00 282.58,96.57 282.67,97.14 282.76,97.69 282.85,98.24 282.94,98.79 283.02,99.32 283.11,99.85 283.20,100.37 283.29,100.89 283.38,101.40 283.46,101.90 283.55,102.40 283.64,102.89 283.73,103.37 283.82,103.85 283.91,104.33 283.99,104.79 284.08,105.26 284.17,105.71 284.26,106.16 284.35,106.61 284.43,107.05 284.52,107.49 284.61,107.92 284.70,108.35 284.79,108.77 284.88,109.18 284.96,109.60 285.05,110.00 285.14,110.41 285.23,110.81 285.32,111.20 285.40,111.59 285.49,111.98 285.58,112.36 285.67,112.74 285.76,113.11 285.84,113.48 285.93,113.85 286.02,114.21 286.11,114.57 286.20,114.93 286.29,115.28 286.37,115.63 286.46,115.97 286.55,116.32 286.64,116.65 286.73,116.99 286.81,117.32 286.90,117.65 286.99,117.98 287.08,118.30 287.17,118.62 287.26,118.93 287.34,119.25 287.43,119.56 287.52,119.86 287.61,120.17 287.70,120.47 287.78,120.77 287.87,121.07 287.96,121.36 288.05,121.65 288.14,121.94 288.22,122.23 288.31,122.51 288.40,122.79 288.49,123.07 288.58,123.35 288.67,123.62 288.75,123.89 288.84,124.16 288.93,124.43 289.02,124.69 289.11,124.95 289.19,125.21 289.28,125.47 289.37,125.73 289.46,125.98 289.55,126.23 289.64,126.48 289.72,126.73 289.81,126.97 289.90,127.22 289.99,127.46 290.08,127.70 290.16,127.93 290.25,128.17 290.34,128.40 290.43,128.64 290.52,128.87 290.60,129.09 290.69,129.32 290.78,129.55 290.87,129.77 290.96,129.99 291.05,130.21 291.13,130.43 291.22,130.64 291.31,130.86 291.40,131.07 291.49,131.28 291.57,131.49 291.66,131.70 291.75,131.91 291.84,132.11 291.93,132.32 292.02,132.52 292.10,132.72 292.19,132.92 292.28,133.12 292.37,133.32 292.46,133.51 292.54,133.70 292.63,133.90 292.72,134.09 292.81,134.28 292.90,134.47 292.98,134.65 293.07,134.84 293.16,135.02 293.25,135.21 293.34,135.39 293.43,135.57 293.51,135.75 293.60,135.93 293.69,136.10 293.78,136.28 293.87,136.46 293.95,136.63 294.04,136.80 294.13,136.97 294.22,137.14 294.31,137.31 294.40,137.48 294.48,137.65 294.57,137.81 294.66,137.98 294.75,138.14 294.84,138.30 294.92,138.47 295.01,138.63 295.10,138.79 295.19,138.94 295.28,139.10 295.36,139.26 295.45,139.41 295.54,139.57 295.63,139.72 295.72,139.88 295.81,140.03 295.89,140.18 295.98,140.33 296.07,140.48 296.16,140.63 296.25,140.77 296.33,140.92 296.42,141.06 296.51,141.21 296.60,141.35 296.69,141.50 296.78,141.64 296.86,141.78 296.95,141.92 297.04,142.06 297.13,142.20 297.22,142.34 297.30,142.47 297.39,142.61 297.48,142.74 297.57,142.88 297.66,143.01 297.75,143.15 298.63,144.44 299.51,145.66 300.39,146.82 301.27,147.92 302.15,148.97 303.03,149.96 303.92,150.91 304.80,151.82 305.68,152.69 306.56,153.52 307.44,154.31 308.32,155.07 309.20,155.81 310.09,156.51 310.97,157.19 311.85,157.84 312.73,158.46 313.61,159.07 314.49,159.65 315.38,160.22 316.26,160.76 317.14,161.29 318.02,161.80 318.90,162.29 319.78,162.77 320.66,163.23 321.55,163.68 322.43,164.12 323.31,164.54 324.19,164.95 325.07,165.35 325.95,165.74 326.83,166.12 327.72,166.49 328.60,166.85 329.48,167.19 330.36,167.53 331.24,167.87 332.12,168.19 333.01,168.50 333.89,168.81 334.77,169.11 335.65,169.40 336.53,169.69 337.41,169.97 338.29,170.24 339.18,170.51 340.06,170.77 340.94,171.03 341.82,171.28 342.70,171.52 343.58,171.76 344.46,172.00 345.35,172.23 346.23,172.45 347.11,172.67 347.99,172.89 348.87,173.10 349.75,173.31 350.64,173.51 351.52,173.71 352.40,173.91 353.28,174.10 354.16,174.29 355.04,174.48 355.92,174.66 356.81,174.84 357.69,175.01 358.57,175.19 359.45,175.36 360.33,175.52 361.21,175.69 362.09,175.85 362.98,176.01 363.86,176.16 364.74,176.32 365.62,176.47 366.50,176.62 367.38,176.76 368.27,176.91 369.15,177.05 370.03,177.19 370.91,177.33 371.79,177.46 372.67,177.60 373.55,177.73 374.44,177.86 375.32,177.99 376.20,178.11 377.08,178.24 377.96,178.36 378.84,178.48 379.72,178.60 380.61,178.71 381.49,178.83 382.37,178.94 383.25,179.06 384.13,179.17 385.01,179.28 385.90,179.39 386.78,179.49 387.66,179.60 388.54,179.70 389.42,179.80 390.30,179.90 391.18,180.00 392.07,180.10 392.95,180.20 393.83,180.30 394.71,180.39 395.59,180.49 396.47,180.58 397.35,180.67 398.24,180.76 399.12,180.85 400.00,180.94 400.88,181.03 401.76,181.11 402.64,181.20 403.53,181.28 404.41,181.37 405.29,181.45 406.17,181.53 407.05,181.61 407.93,181.69 408.81,181.77 409.70,181.85 410.58,181.92 411.46,182.00 412.34,182.08 413.22,182.15 414.10,182.22 414.98,182.30 415.87,182.37 416.75,182.44 417.63,182.51 418.51,182.58 419.39,182.65 420.27,182.72 421.16,182.79 422.04,182.85 422.92,182.92 423.80,182.99 424.68,183.05 425.56,183.12 426.44,183.18 427.33,183.24 428.21,183.31 429.09,183.37 429.97,183.43 430.85,183.49 431.73,183.55 432.61,183.61 433.50,183.67 434.38,183.73 435.26,183.79 436.14,183.85 437.02,183.90 437.90,183.96 438.79,184.02 439.67,184.07 440.55,184.13 441.43,184.18 442.31,184.23 443.19,184.29 444.07,184.34 444.96,184.39 445.84,184.45 446.72,184.50 447.60,184.55" fill="none" stroke="#ee7d26" stroke-width="1.0" clip-path="url(#cb)"/>
<line x1="293.5" y1="60.599999999999994" x2="293.5" y2="198.5" fill="none" stroke="#333" stroke-width="1.4" stroke-dasharray="6.6,3.4" stroke-dashoffset="7.5"/><line x1="293.5" y1="60.599999999999994" x2="315.4" y2="60.599999999999994" fill="none" stroke="#333" stroke-width="1.4" stroke-dasharray="6.6,3.4" stroke-dashoffset="9.1"/><line x1="315.4" y1="60.599999999999994" x2="315.4" y2="198.5" fill="none" stroke="#333" stroke-width="1.4" stroke-dasharray="6.6,3.4" stroke-dashoffset="9.7"/>
<path d="M271.3,60.3 V198.5 H448.6" fill="none" stroke="#7d7d7d" stroke-width="1.8"/>
<line x1="271.3" y1="198.50" x2="273.5" y2="198.50" stroke="#222" stroke-width="1"/>
<text transform="translate(258.7,203.00) scale(1,1.07)" text-anchor="middle" >0</text>
<line x1="271.3" y1="175.47" x2="273.5" y2="175.47" stroke="#222" stroke-width="1"/>
<text transform="translate(258.7,179.97) scale(1,1.07)" text-anchor="middle" >0.05</text>
<line x1="271.3" y1="152.43" x2="273.5" y2="152.43" stroke="#222" stroke-width="1"/>
<text transform="translate(258.7,156.93) scale(1,1.07)" text-anchor="middle" >0.1</text>
<line x1="271.3" y1="129.40" x2="273.5" y2="129.40" stroke="#222" stroke-width="1"/>
<text transform="translate(258.7,133.90) scale(1,1.07)" text-anchor="middle" >0.15</text>
<line x1="271.3" y1="106.37" x2="273.5" y2="106.37" stroke="#222" stroke-width="1"/>
<text transform="translate(258.7,110.87) scale(1,1.07)" text-anchor="middle" >0.2</text>
<line x1="271.3" y1="83.33" x2="273.5" y2="83.33" stroke="#222" stroke-width="1"/>
<text transform="translate(258.7,87.83) scale(1,1.07)" text-anchor="middle" >0.25</text>
<line x1="271.3" y1="60.30" x2="273.5" y2="60.30" stroke="#222" stroke-width="1"/>
<text transform="translate(258.7,64.80) scale(1,1.07)" text-anchor="middle" >0.3</text>
<line x1="271.30" y1="198.5" x2="271.30" y2="196.3" stroke="#222" stroke-width="1"/>
<text transform="translate(273.00,211.5) scale(1,1.07)" text-anchor="middle" >0</text>
<line x1="293.40" y1="198.5" x2="293.40" y2="196.3" stroke="#222" stroke-width="1"/>
<text transform="translate(292.90,211.5) scale(1,1.07)" text-anchor="middle" >25</text>
<line x1="315.50" y1="198.5" x2="315.50" y2="196.3" stroke="#222" stroke-width="1"/>
<text transform="translate(315.00,211.5) scale(1,1.07)" text-anchor="middle" >50</text>
<line x1="359.70" y1="198.5" x2="359.70" y2="196.3" stroke="#222" stroke-width="1"/>
<text transform="translate(360.20,211.5) scale(1,1.07)" text-anchor="middle" >100</text>
<line x1="403.90" y1="198.5" x2="403.90" y2="196.3" stroke="#222" stroke-width="1"/>
<text transform="translate(403.20,211.5) scale(1,1.07)" text-anchor="middle" >150</text>
<line x1="448.10" y1="198.5" x2="448.10" y2="196.3" stroke="#222" stroke-width="1"/>
<text transform="translate(446.10,211.5) scale(1,1.07)" text-anchor="middle" >200</text>
<text transform="translate(360.0,227.6) scale(1,1.07)" text-anchor="middle" ><tspan font-style="italic">D</tspan> (m)</text>
<text transform="translate(360.0,246.2) scale(1,1.07)" text-anchor="middle" >(b) <tspan font-style="italic">l</tspan><tspan font-style="italic" font-size="6.8" dy="2.0">2</tspan></text>
<text transform="translate(239.7,129.7) rotate(-90) scale(1.035,1.07)" text-anchor="middle"><tspan font-style="italic">PPV</tspan> (mm/s)</text>
<clipPath id="cc"><rect x="502.2" y="59.8" width="174.40000000000003" height="138.89999999999998"/></clipPath>
<circle cx="514.8" cy="117.5" r="2.3" fill="#f0913f"/>
<circle cx="519.2" cy="120.0" r="2.3" fill="#f0913f"/>
<circle cx="532.2" cy="132.5" r="2.3" fill="#f0913f"/>
<circle cx="540.9" cy="131.8" r="2.3" fill="#f0913f"/>
<circle cx="536.8" cy="139.9" r="2.3" fill="#f0913f"/>
<circle cx="523.6" cy="150.5" r="2.3" fill="#f0913f"/>
<circle cx="588.6" cy="171.1" r="2.3" fill="#f0913f"/>
<circle cx="632.2" cy="179.3" r="2.3" fill="#f0913f"/>
<circle cx="675.6" cy="183.8" r="2.3" fill="#f0913f"/>
<circle cx="514.8" cy="148.8" r="2.3" fill="#66adc2"/>
<circle cx="519.0" cy="151.8" r="2.3" fill="#66adc2"/>
<circle cx="523.6" cy="174.9" r="2.3" fill="#66adc2"/>
<circle cx="532.2" cy="172.9" r="2.3" fill="#66adc2"/>
<circle cx="541.0" cy="178.5" r="2.3" fill="#66adc2"/>
<circle cx="588.6" cy="189.3" r="2.3" fill="#66adc2"/>
<circle cx="632.2" cy="193.8" r="2.3" fill="#66adc2"/>
<circle cx="675.6" cy="193.6" r="2.3" fill="#66adc2"/>
<circle cx="514.8" cy="123.6" r="2.3" fill="#9d8cc5"/>
<circle cx="519.2" cy="150.2" r="2.3" fill="#9d8cc5"/>
<circle cx="523.6" cy="146.8" r="2.3" fill="#9d8cc5"/>
<circle cx="532.2" cy="166.5" r="2.3" fill="#9d8cc5"/>
<circle cx="536.5" cy="175.2" r="2.3" fill="#9d8cc5"/>
<circle cx="541.0" cy="177.2" r="2.3" fill="#9d8cc5"/>
<circle cx="588.6" cy="185.2" r="2.3" fill="#9d8cc5"/>
<circle cx="632.2" cy="188.8" r="2.3" fill="#9d8cc5"/>
<circle cx="675.6" cy="190.0" r="2.3" fill="#9d8cc5"/>
<circle cx="514.8" cy="170.0" r="2.3" fill="#d98a88"/>
<circle cx="519.2" cy="169.2" r="2.3" fill="#d98a88"/>
<circle cx="523.6" cy="167.8" r="2.3" fill="#d98a88"/>
<circle cx="532.2" cy="168.9" r="2.3" fill="#d98a88"/>
<circle cx="536.5" cy="179.2" r="2.3" fill="#d98a88"/>
<circle cx="588.6" cy="191.0" r="2.3" fill="#d98a88"/>
<circle cx="632.2" cy="191.9" r="2.3" fill="#d98a88"/>
<circle cx="675.6" cy="192.8" r="2.3" fill="#d98a88"/>
<polyline points="504.37,61.01 504.46,64.76 504.55,68.28 504.63,71.59 504.72,74.71 504.81,77.66 504.89,80.44 504.98,83.09 505.07,85.59 505.15,87.98 505.24,90.25 505.33,92.41 505.42,94.48 505.50,96.45 505.59,98.35 505.68,100.16 505.76,101.89 505.85,103.56 505.94,105.17 506.02,106.71 506.11,108.19 506.20,109.62 506.28,111.00 506.37,112.33 506.46,113.61 506.54,114.86 506.63,116.06 506.72,117.22 506.81,118.34 506.89,119.43 506.98,120.49 507.07,121.51 507.15,122.50 507.24,123.47 507.33,124.41 507.41,125.32 507.50,126.20 507.59,127.06 507.67,127.90 507.76,128.72 507.85,129.51 507.94,130.29 508.02,131.04 508.11,131.78 508.20,132.50 508.28,133.20 508.37,133.88 508.46,134.55 508.54,135.20 508.63,135.84 508.72,136.46 508.80,137.07 508.89,137.67 508.98,138.25 509.07,138.82 509.15,139.38 509.24,139.92 509.33,140.46 509.41,140.98 509.50,141.50 509.59,142.00 509.67,142.49 509.76,142.98 509.85,143.45 509.93,143.92 510.02,144.37 510.11,144.82 510.19,145.26 510.28,145.69 510.37,146.11 510.46,146.53 510.54,146.94 510.63,147.34 510.72,147.73 510.80,148.12 510.89,148.50 510.98,148.88 511.06,149.25 511.15,149.61 511.24,149.96 511.32,150.31 511.41,150.66 511.50,151.00 511.59,151.33 511.67,151.66 511.76,151.98 511.85,152.30 511.93,152.62 512.02,152.93 512.11,153.23 512.19,153.53 512.28,153.83 512.37,154.12 512.45,154.40 512.54,154.69 512.63,154.96 512.71,155.24 512.80,155.51 512.89,155.78 512.98,156.04 513.06,156.30 513.15,156.56 513.24,156.81 513.32,157.06 513.41,157.30 513.50,157.55 513.58,157.79 513.67,158.02 513.76,158.26 513.84,158.49 513.93,158.71 514.02,158.94 514.11,159.16 514.19,159.38 514.28,159.60 514.37,159.81 514.45,160.02 514.54,160.23 514.63,160.44 514.71,160.64 514.80,160.84 514.89,161.04 514.97,161.24 515.06,161.43 515.15,161.62 515.23,161.81 515.32,162.00 515.41,162.18 515.50,162.37 515.58,162.55 515.67,162.73 515.76,162.91 515.84,163.08 515.93,163.25 516.02,163.43 516.10,163.60 516.19,163.76 516.28,163.93 516.36,164.09 516.45,164.26 516.54,164.42 516.63,164.58 516.71,164.74 516.80,164.89 516.89,165.05 516.97,165.20 517.06,165.35 517.15,165.50 517.23,165.65 517.32,165.79 517.41,165.94 517.49,166.08 517.58,166.23 517.67,166.37 517.76,166.51 517.84,166.65 517.93,166.78 518.02,166.92 518.10,167.05 518.19,167.19 518.28,167.32 518.36,167.45 518.45,167.58 518.54,167.71 518.62,167.83 518.71,167.96 518.80,168.09 518.88,168.21 518.97,168.33 519.06,168.45 519.15,168.57 519.23,168.69 519.32,168.81 519.41,168.93 519.49,169.05 519.58,169.16 519.67,169.28 519.75,169.39 519.84,169.50 519.93,169.61 520.01,169.72 520.10,169.83 520.19,169.94 520.28,170.05 520.36,170.16 520.45,170.26 520.54,170.37 520.62,170.47 520.71,170.58 520.80,170.68 520.88,170.78 520.97,170.88 521.06,170.98 521.14,171.08 521.23,171.18 521.32,171.28 521.40,171.37 521.49,171.47 521.58,171.57 521.67,171.66 521.75,171.75 521.84,171.85 521.93,171.94 522.01,172.03 522.10,172.12 522.19,172.21 522.27,172.30 522.36,172.39 522.45,172.48 522.53,172.57 522.62,172.66 522.71,172.74 522.80,172.83 522.88,172.91 522.97,173.00 523.06,173.08 523.14,173.17 523.23,173.25 523.32,173.33 523.40,173.41 523.49,173.49 523.58,173.57 523.66,173.65 523.75,173.73 523.84,173.81 523.93,173.89 524.01,173.97 524.10,174.05 524.19,174.12 524.27,174.20 524.36,174.27 524.45,174.35 524.53,174.42 524.62,174.50 524.71,174.57 524.79,174.64 524.88,174.72 524.97,174.79 525.05,174.86 525.14,174.93 525.23,175.00 525.32,175.07 525.40,175.14 525.49,175.21 525.58,175.28 525.66,175.35 525.75,175.42 525.84,175.48 525.92,175.55 526.01,175.62 526.10,175.68 526.18,175.75 526.27,175.82 526.36,175.88 526.45,175.95 526.53,176.01 526.62,176.07 526.71,176.14 526.79,176.20 526.88,176.26 526.97,176.33 527.05,176.39 527.14,176.45 527.23,176.51 527.31,176.57 527.40,176.63 527.49,176.69 527.57,176.75 527.66,176.81 527.75,176.87 527.84,176.93 527.92,176.99 528.01,177.04 528.10,177.10 528.18,177.16 528.27,177.22 529.14,177.77 530.01,178.29 530.88,178.78 531.75,179.25 532.62,179.70 533.48,180.12 534.35,180.52 535.22,180.91 536.09,181.27 536.96,181.62 537.83,181.96 538.70,182.28 539.57,182.59 540.44,182.89 541.31,183.17 542.17,183.44 543.04,183.71 543.91,183.96 544.78,184.21 545.65,184.44 546.52,184.67 547.39,184.89 548.26,185.10 549.13,185.31 550.00,185.51 550.86,185.70 551.73,185.89 552.60,186.07 553.47,186.24 554.34,186.41 555.21,186.58 556.08,186.74 556.95,186.90 557.82,187.05 558.69,187.19 559.55,187.34 560.42,187.48 561.29,187.61 562.16,187.75 563.03,187.88 563.90,188.00 564.77,188.13 565.64,188.25 566.51,188.36 567.38,188.48 568.24,188.59 569.11,188.70 569.98,188.80 570.85,188.91 571.72,189.01 572.59,189.11 573.46,189.21 574.33,189.30 575.20,189.40 576.07,189.49 576.93,189.58 577.80,189.66 578.67,189.75 579.54,189.83 580.41,189.92 581.28,190.00 582.15,190.08 583.02,190.16 583.89,190.23 584.76,190.31 585.62,190.38 586.49,190.45 587.36,190.52 588.23,190.59 589.10,190.66 589.97,190.73 590.84,190.79 591.71,190.86 592.58,190.92 593.45,190.98 594.31,191.05 595.18,191.11 596.05,191.17 596.92,191.22 597.79,191.28 598.66,191.34 599.53,191.39 600.40,191.45 601.27,191.50 602.14,191.56 603.00,191.61 603.87,191.66 604.74,191.71 605.61,191.76 606.48,191.81 607.35,191.86 608.22,191.90 609.09,191.95 609.96,192.00 610.83,192.04 611.69,192.09 612.56,192.13 613.43,192.18 614.30,192.22 615.17,192.26 616.04,192.30 616.91,192.35 617.78,192.39 618.65,192.43 619.52,192.47 620.38,192.51 621.25,192.54 622.12,192.58 622.99,192.62 623.86,192.66 624.73,192.69 625.60,192.73 626.47,192.77 627.34,192.80 628.21,192.84 629.07,192.87 629.94,192.91 630.81,192.94 631.68,192.97 632.55,193.00 633.42,193.04 634.29,193.07 635.16,193.10 636.03,193.13 636.90,193.16 637.76,193.19 638.63,193.22 639.50,193.25 640.37,193.28 641.24,193.31 642.11,193.34 642.98,193.37 643.85,193.40 644.72,193.43 645.59,193.45 646.45,193.48 647.32,193.51 648.19,193.54 649.06,193.56 649.93,193.59 650.80,193.61 651.67,193.64 652.54,193.66 653.41,193.69 654.28,193.71 655.14,193.74 656.01,193.76 656.88,193.79 657.75,193.81 658.62,193.84 659.49,193.86 660.36,193.88 661.23,193.90 662.10,193.93 662.97,193.95 663.83,193.97 664.70,193.99 665.57,194.02 666.44,194.04 667.31,194.06 668.18,194.08 669.05,194.10 669.92,194.12 670.79,194.14 671.66,194.16 672.52,194.18 673.39,194.20 674.26,194.22 675.13,194.24 676.00,194.26" fill="none" stroke="#6aabbd" stroke-width="1.0" clip-path="url(#cc)"/>
<polyline points="505.15,60.18 505.24,63.72 505.33,67.07 505.42,70.24 505.50,73.25 505.59,76.10 505.68,78.82 505.76,81.41 505.85,83.89 505.94,86.25 506.02,88.50 506.11,90.66 506.20,92.73 506.28,94.71 506.37,96.61 506.46,98.44 506.54,100.20 506.63,101.89 506.72,103.51 506.81,105.08 506.89,106.59 506.98,108.05 507.07,109.46 507.15,110.82 507.24,112.14 507.33,113.41 507.41,114.64 507.50,115.84 507.59,116.99 507.67,118.11 507.76,119.20 507.85,120.26 507.94,121.28 508.02,122.28 508.11,123.24 508.20,124.18 508.28,125.10 508.37,125.99 508.46,126.85 508.54,127.70 508.63,128.52 508.72,129.32 508.80,130.10 508.89,130.86 508.98,131.60 509.07,132.33 509.15,133.04 509.24,133.73 509.33,134.40 509.41,135.06 509.50,135.70 509.59,136.33 509.67,136.95 509.76,137.55 509.85,138.14 509.93,138.72 510.02,139.28 510.11,139.83 510.19,140.37 510.28,140.90 510.37,141.42 510.46,141.93 510.54,142.43 510.63,142.92 510.72,143.40 510.80,143.87 510.89,144.33 510.98,144.78 511.06,145.23 511.15,145.66 511.24,146.09 511.32,146.51 511.41,146.93 511.50,147.33 511.59,147.73 511.67,148.12 511.76,148.51 511.85,148.88 511.93,149.25 512.02,149.62 512.11,149.98 512.19,150.33 512.28,150.68 512.37,151.02 512.45,151.36 512.54,151.69 512.63,152.02 512.71,152.34 512.80,152.65 512.89,152.97 512.98,153.27 513.06,153.57 513.15,153.87 513.24,154.16 513.32,154.45 513.41,154.74 513.50,155.02 513.58,155.29 513.67,155.56 513.76,155.83 513.84,156.10 513.93,156.36 514.02,156.62 514.11,156.87 514.19,157.12 514.28,157.37 514.37,157.61 514.45,157.85 514.54,158.09 514.63,158.32 514.71,158.55 514.80,158.78 514.89,159.00 514.97,159.23 515.06,159.45 515.15,159.66 515.23,159.88 515.32,160.09 515.41,160.30 515.50,160.50 515.58,160.71 515.67,160.91 515.76,161.10 515.84,161.30 515.93,161.49 516.02,161.69 516.10,161.88 516.19,162.06 516.28,162.25 516.36,162.43 516.45,162.61 516.54,162.79 516.63,162.97 516.71,163.14 516.80,163.31 516.89,163.48 516.97,163.65 517.06,163.82 517.15,163.99 517.23,164.15 517.32,164.31 517.41,164.47 517.49,164.63 517.58,164.79 517.67,164.94 517.76,165.09 517.84,165.25 517.93,165.40 518.02,165.54 518.10,165.69 518.19,165.84 518.28,165.98 518.36,166.12 518.45,166.26 518.54,166.40 518.62,166.54 518.71,166.68 518.80,166.82 518.88,166.95 518.97,167.08 519.06,167.21 519.15,167.35 519.23,167.47 519.32,167.60 519.41,167.73 519.49,167.86 519.58,167.98 519.67,168.10 519.75,168.23 519.84,168.35 519.93,168.47 520.01,168.59 520.10,168.70 520.19,168.82 520.28,168.94 520.36,169.05 520.45,169.16 520.54,169.28 520.62,169.39 520.71,169.50 520.80,169.61 520.88,169.72 520.97,169.83 521.06,169.93 521.14,170.04 521.23,170.14 521.32,170.25 521.40,170.35 521.49,170.45 521.58,170.55 521.67,170.66 521.75,170.76 521.84,170.85 521.93,170.95 522.01,171.05 522.10,171.15 522.19,171.24 522.27,171.34 522.36,171.43 522.45,171.53 522.53,171.62 522.62,171.71 522.71,171.80 522.80,171.89 522.88,171.98 522.97,172.07 523.06,172.16 523.14,172.25 523.23,172.34 523.32,172.42 523.40,172.51 523.49,172.59 523.58,172.68 523.66,172.76 523.75,172.85 523.84,172.93 523.93,173.01 524.01,173.09 524.10,173.17 524.19,173.25 524.27,173.33 524.36,173.41 524.45,173.49 524.53,173.57 524.62,173.65 524.71,173.72 524.79,173.80 524.88,173.88 524.97,173.95 525.05,174.03 525.14,174.10 525.23,174.17 525.32,174.25 525.40,174.32 525.49,174.39 525.58,174.46 525.66,174.53 525.75,174.60 525.84,174.68 525.92,174.74 526.01,174.81 526.10,174.88 526.18,174.95 526.27,175.02 526.36,175.09 526.45,175.15 526.53,175.22 526.62,175.29 526.71,175.35 526.79,175.42 526.88,175.48 526.97,175.55 527.05,175.61 527.14,175.67 527.23,175.74 527.31,175.80 527.40,175.86 527.49,175.92 527.57,175.99 527.66,176.05 527.75,176.11 527.84,176.17 527.92,176.23 528.01,176.29 528.10,176.35 528.18,176.41 528.27,176.46 529.14,177.03 530.01,177.56 530.88,178.07 531.75,178.54 532.62,178.99 533.48,179.42 534.35,179.83 535.22,180.22 536.09,180.59 536.96,180.94 537.83,181.27 538.70,181.59 539.57,181.90 540.44,182.20 541.31,182.48 542.17,182.75 543.04,183.01 543.91,183.26 544.78,183.50 545.65,183.74 546.52,183.96 547.39,184.18 548.26,184.39 549.13,184.59 550.00,184.78 550.86,184.97 551.73,185.16 552.60,185.33 553.47,185.50 554.34,185.67 555.21,185.83 556.08,185.99 556.95,186.14 557.82,186.29 558.69,186.43 559.55,186.57 560.42,186.71 561.29,186.84 562.16,186.97 563.03,187.10 563.90,187.22 564.77,187.34 565.64,187.45 566.51,187.57 567.38,187.68 568.24,187.79 569.11,187.89 569.98,188.00 570.85,188.10 571.72,188.20 572.59,188.29 573.46,188.39 574.33,188.48 575.20,188.57 576.07,188.66 576.93,188.74 577.80,188.83 578.67,188.91 579.54,188.99 580.41,189.07 581.28,189.15 582.15,189.23 583.02,189.30 583.89,189.37 584.76,189.45 585.62,189.52 586.49,189.59 587.36,189.65 588.23,189.72 589.10,189.79 589.97,189.85 590.84,189.92 591.71,189.98 592.58,190.04 593.45,190.10 594.31,190.16 595.18,190.22 596.05,190.27 596.92,190.33 597.79,190.39 598.66,190.44 599.53,190.49 600.40,190.55 601.27,190.60 602.14,190.65 603.00,190.70 603.87,190.75 604.74,190.80 605.61,190.85 606.48,190.90 607.35,190.94 608.22,190.99 609.09,191.03 609.96,191.08 610.83,191.12 611.69,191.17 612.56,191.21 613.43,191.25 614.30,191.29 615.17,191.33 616.04,191.37 616.91,191.41 617.78,191.45 618.65,191.49 619.52,191.53 620.38,191.57 621.25,191.61 622.12,191.64 622.99,191.68 623.86,191.72 624.73,191.75 625.60,191.79 626.47,191.82 627.34,191.86 628.21,191.89 629.07,191.92 629.94,191.96 630.81,191.99 631.68,192.02 632.55,192.05 633.42,192.08 634.29,192.11 635.16,192.15 636.03,192.18 636.90,192.21 637.76,192.24 638.63,192.26 639.50,192.29 640.37,192.32 641.24,192.35 642.11,192.38 642.98,192.41 643.85,192.43 644.72,192.46 645.59,192.49 646.45,192.51 647.32,192.54 648.19,192.57 649.06,192.59 649.93,192.62 650.80,192.64 651.67,192.67 652.54,192.69 653.41,192.72 654.28,192.74 655.14,192.77 656.01,192.79 656.88,192.81 657.75,192.84 658.62,192.86 659.49,192.88 660.36,192.90 661.23,192.93 662.10,192.95 662.97,192.97 663.83,192.99 664.70,193.01 665.57,193.04 666.44,193.06 667.31,193.08 668.18,193.10 669.05,193.12 669.92,193.14 670.79,193.16 671.66,193.18 672.52,193.20 673.39,193.22 674.26,193.24 675.13,193.26 676.00,193.28" fill="none" stroke="#b76a65" stroke-width="1.0" clip-path="url(#cc)"/>
<polyline points="506.81,58.47 506.89,60.46 506.98,62.38 507.07,64.25 507.15,66.06 507.24,67.82 507.33,69.52 507.41,71.18 507.50,72.78 507.59,74.35 507.67,75.87 507.76,77.34 507.85,78.78 507.94,80.18 508.02,81.55 508.11,82.88 508.20,84.18 508.28,85.44 508.37,86.67 508.46,87.88 508.54,89.05 508.63,90.20 508.72,91.32 508.80,92.41 508.89,93.48 508.98,94.53 509.07,95.55 509.15,96.55 509.24,97.53 509.33,98.49 509.41,99.43 509.50,100.35 509.59,101.25 509.67,102.13 509.76,102.99 509.85,103.84 509.93,104.67 510.02,105.48 510.11,106.28 510.19,107.06 510.28,107.83 510.37,108.59 510.46,109.33 510.54,110.05 510.63,110.77 510.72,111.47 510.80,112.16 510.89,112.83 510.98,113.50 511.06,114.15 511.15,114.79 511.24,115.43 511.32,116.05 511.41,116.66 511.50,117.26 511.59,117.85 511.67,118.43 511.76,119.00 511.85,119.57 511.93,120.12 512.02,120.67 512.11,121.20 512.19,121.73 512.28,122.25 512.37,122.77 512.45,123.27 512.54,123.77 512.63,124.26 512.71,124.75 512.80,125.22 512.89,125.69 512.98,126.16 513.06,126.62 513.15,127.07 513.24,127.51 513.32,127.95 513.41,128.38 513.50,128.81 513.58,129.23 513.67,129.64 513.76,130.05 513.84,130.46 513.93,130.86 514.02,131.25 514.11,131.64 514.19,132.03 514.28,132.40 514.37,132.78 514.45,133.15 514.54,133.51 514.63,133.87 514.71,134.23 514.80,134.58 514.89,134.93 514.97,135.27 515.06,135.61 515.15,135.95 515.23,136.28 515.32,136.61 515.41,136.93 515.50,137.25 515.58,137.57 515.67,137.88 515.76,138.19 515.84,138.50 515.93,138.80 516.02,139.10 516.10,139.39 516.19,139.69 516.28,139.98 516.36,140.26 516.45,140.55 516.54,140.83 516.63,141.10 516.71,141.38 516.80,141.65 516.89,141.92 516.97,142.18 517.06,142.45 517.15,142.71 517.23,142.96 517.32,143.22 517.41,143.47 517.49,143.72 517.58,143.97 517.67,144.21 517.76,144.46 517.84,144.70 517.93,144.94 518.02,145.17 518.10,145.40 518.19,145.64 518.28,145.86 518.36,146.09 518.45,146.32 518.54,146.54 518.62,146.76 518.71,146.98 518.80,147.19 518.88,147.41 518.97,147.62 519.06,147.83 519.15,148.04 519.23,148.25 519.32,148.45 519.41,148.65 519.49,148.86 519.58,149.05 519.67,149.25 519.75,149.45 519.84,149.64 519.93,149.84 520.01,150.03 520.10,150.22 520.19,150.40 520.28,150.59 520.36,150.77 520.45,150.96 520.54,151.14 520.62,151.32 520.71,151.50 520.80,151.67 520.88,151.85 520.97,152.02 521.06,152.20 521.14,152.37 521.23,152.54 521.32,152.70 521.40,152.87 521.49,153.04 521.58,153.20 521.67,153.37 521.75,153.53 521.84,153.69 521.93,153.85 522.01,154.01 522.10,154.16 522.19,154.32 522.27,154.47 522.36,154.63 522.45,154.78 522.53,154.93 522.62,155.08 522.71,155.23 522.80,155.38 522.88,155.52 522.97,155.67 523.06,155.81 523.14,155.95 523.23,156.10 523.32,156.24 523.40,156.38 523.49,156.52 523.58,156.66 523.66,156.79 523.75,156.93 523.84,157.06 523.93,157.20 524.01,157.33 524.10,157.46 524.19,157.60 524.27,157.73 524.36,157.86 524.45,157.98 524.53,158.11 524.62,158.24 524.71,158.37 524.79,158.49 524.88,158.62 524.97,158.74 525.05,158.86 525.14,158.98 525.23,159.10 525.32,159.22 525.40,159.34 525.49,159.46 525.58,159.58 525.66,159.70 525.75,159.81 525.84,159.93 525.92,160.04 526.01,160.16 526.10,160.27 526.18,160.39 526.27,160.50 526.36,160.61 526.45,160.72 526.53,160.83 526.62,160.94 526.71,161.05 526.79,161.15 526.88,161.26 526.97,161.37 527.05,161.47 527.14,161.58 527.23,161.68 527.31,161.79 527.40,161.89 527.49,161.99 527.57,162.09 527.66,162.20 527.75,162.30 527.84,162.40 527.92,162.50 528.01,162.59 528.10,162.69 528.18,162.79 528.27,162.89 529.14,163.83 530.01,164.72 530.88,165.56 531.75,166.35 532.62,167.11 533.48,167.82 534.35,168.51 535.22,169.16 536.09,169.78 536.96,170.37 537.83,170.94 538.70,171.48 539.57,172.01 540.44,172.50 541.31,172.98 542.17,173.45 543.04,173.89 543.91,174.32 544.78,174.73 545.65,175.12 546.52,175.51 547.39,175.87 548.26,176.23 549.13,176.58 550.00,176.91 550.86,177.23 551.73,177.55 552.60,177.85 553.47,178.14 554.34,178.43 555.21,178.70 556.08,178.97 556.95,179.23 557.82,179.49 558.69,179.73 559.55,179.97 560.42,180.21 561.29,180.43 562.16,180.66 563.03,180.87 563.90,181.08 564.77,181.29 565.64,181.49 566.51,181.68 567.38,181.87 568.24,182.06 569.11,182.24 569.98,182.42 570.85,182.59 571.72,182.76 572.59,182.92 573.46,183.09 574.33,183.24 575.20,183.40 576.07,183.55 576.93,183.70 577.80,183.84 578.67,183.99 579.54,184.13 580.41,184.26 581.28,184.40 582.15,184.53 583.02,184.66 583.89,184.78 584.76,184.91 585.62,185.03 586.49,185.15 587.36,185.26 588.23,185.38 589.10,185.49 589.97,185.60 590.84,185.71 591.71,185.82 592.58,185.92 593.45,186.03 594.31,186.13 595.18,186.23 596.05,186.33 596.92,186.42 597.79,186.52 598.66,186.61 599.53,186.70 600.40,186.79 601.27,186.88 602.14,186.97 603.00,187.06 603.87,187.14 604.74,187.22 605.61,187.31 606.48,187.39 607.35,187.47 608.22,187.55 609.09,187.62 609.96,187.70 610.83,187.78 611.69,187.85 612.56,187.92 613.43,187.99 614.30,188.07 615.17,188.14 616.04,188.20 616.91,188.27 617.78,188.34 618.65,188.41 619.52,188.47 620.38,188.54 621.25,188.60 622.12,188.66 622.99,188.72 623.86,188.78 624.73,188.85 625.60,188.90 626.47,188.96 627.34,189.02 628.21,189.08 629.07,189.14 629.94,189.19 630.81,189.25 631.68,189.30 632.55,189.36 633.42,189.41 634.29,189.46 635.16,189.51 636.03,189.56 636.90,189.62 637.76,189.67 638.63,189.72 639.50,189.76 640.37,189.81 641.24,189.86 642.11,189.91 642.98,189.95 643.85,190.00 644.72,190.05 645.59,190.09 646.45,190.14 647.32,190.18 648.19,190.22 649.06,190.27 649.93,190.31 650.80,190.35 651.67,190.40 652.54,190.44 653.41,190.48 654.28,190.52 655.14,190.56 656.01,190.60 656.88,190.64 657.75,190.68 658.62,190.72 659.49,190.75 660.36,190.79 661.23,190.83 662.10,190.87 662.97,190.90 663.83,190.94 664.70,190.98 665.57,191.01 666.44,191.05 667.31,191.08 668.18,191.12 669.05,191.15 669.92,191.18 670.79,191.22 671.66,191.25 672.52,191.28 673.39,191.32 674.26,191.35 675.13,191.38 676.00,191.41" fill="none" stroke="#a295c2" stroke-width="1.0" clip-path="url(#cc)"/>
<polyline points="510.11,59.10 510.19,60.16 510.28,61.20 510.37,62.22 510.46,63.23 510.54,64.21 510.63,65.18 510.72,66.13 510.80,67.07 510.89,67.99 510.98,68.89 511.06,69.78 511.15,70.66 511.24,71.52 511.32,72.36 511.41,73.19 511.50,74.01 511.59,74.82 511.67,75.61 511.76,76.40 511.85,77.17 511.93,77.92 512.02,78.67 512.11,79.41 512.19,80.13 512.28,80.84 512.37,81.55 512.45,82.24 512.54,82.92 512.63,83.60 512.71,84.26 512.80,84.92 512.89,85.56 512.98,86.20 513.06,86.83 513.15,87.45 513.24,88.06 513.32,88.67 513.41,89.26 513.50,89.85 513.58,90.43 513.67,91.00 513.76,91.57 513.84,92.13 513.93,92.68 514.02,93.22 514.11,93.76 514.19,94.29 514.28,94.81 514.37,95.33 514.45,95.84 514.54,96.35 514.63,96.85 514.71,97.34 514.80,97.83 514.89,98.31 514.97,98.79 515.06,99.26 515.15,99.73 515.23,100.19 515.32,100.64 515.41,101.10 515.50,101.54 515.58,101.98 515.67,102.42 515.76,102.85 515.84,103.27 515.93,103.70 516.02,104.11 516.10,104.53 516.19,104.93 516.28,105.34 516.36,105.74 516.45,106.13 516.54,106.53 516.63,106.91 516.71,107.30 516.80,107.68 516.89,108.05 516.97,108.42 517.06,108.79 517.15,109.16 517.23,109.52 517.32,109.88 517.41,110.23 517.49,110.58 517.58,110.93 517.67,111.27 517.76,111.61 517.84,111.95 517.93,112.29 518.02,112.62 518.10,112.95 518.19,113.27 518.28,113.59 518.36,113.91 518.45,114.23 518.54,114.54 518.62,114.85 518.71,115.16 518.80,115.47 518.88,115.77 518.97,116.07 519.06,116.37 519.15,116.66 519.23,116.95 519.32,117.24 519.41,117.53 519.49,117.82 519.58,118.10 519.67,118.38 519.75,118.66 519.84,118.93 519.93,119.20 520.01,119.47 520.10,119.74 520.19,120.01 520.28,120.27 520.36,120.53 520.45,120.79 520.54,121.05 520.62,121.31 520.71,121.56 520.80,121.81 520.88,122.06 520.97,122.31 521.06,122.56 521.14,122.80 521.23,123.04 521.32,123.28 521.40,123.52 521.49,123.76 521.58,123.99 521.67,124.22 521.75,124.45 521.84,124.68 521.93,124.91 522.01,125.14 522.10,125.36 522.19,125.58 522.27,125.80 522.36,126.02 522.45,126.24 522.53,126.46 522.62,126.67 522.71,126.89 522.80,127.10 522.88,127.31 522.97,127.52 523.06,127.72 523.14,127.93 523.23,128.13 523.32,128.33 523.40,128.54 523.49,128.74 523.58,128.93 523.66,129.13 523.75,129.33 523.84,129.52 523.93,129.71 524.01,129.91 524.10,130.10 524.19,130.29 524.27,130.47 524.36,130.66 524.45,130.85 524.53,131.03 524.62,131.21 524.71,131.39 524.79,131.58 524.88,131.76 524.97,131.93 525.05,132.11 525.14,132.29 525.23,132.46 525.32,132.64 525.40,132.81 525.49,132.98 525.58,133.15 525.66,133.32 525.75,133.49 525.84,133.65 525.92,133.82 526.01,133.99 526.10,134.15 526.18,134.31 526.27,134.48 526.36,134.64 526.45,134.80 526.53,134.96 526.62,135.11 526.71,135.27 526.79,135.43 526.88,135.58 526.97,135.74 527.05,135.89 527.14,136.04 527.23,136.20 527.31,136.35 527.40,136.50 527.49,136.65 527.57,136.80 527.66,136.94 527.75,137.09 527.84,137.23 527.92,137.38 528.01,137.52 528.10,137.67 528.18,137.81 528.27,137.95 529.14,139.32 530.01,140.62 530.88,141.86 531.75,143.03 532.62,144.14 533.48,145.20 534.35,146.22 535.22,147.18 536.09,148.11 536.96,148.99 537.83,149.84 538.70,150.66 539.57,151.44 540.44,152.19 541.31,152.91 542.17,153.61 543.04,154.28 543.91,154.93 544.78,155.55 545.65,156.16 546.52,156.74 547.39,157.31 548.26,157.85 549.13,158.38 550.00,158.89 550.86,159.39 551.73,159.87 552.60,160.34 553.47,160.80 554.34,161.24 555.21,161.67 556.08,162.09 556.95,162.49 557.82,162.89 558.69,163.27 559.55,163.65 560.42,164.01 561.29,164.37 562.16,164.72 563.03,165.06 563.90,165.39 564.77,165.71 565.64,166.03 566.51,166.34 567.38,166.64 568.24,166.93 569.11,167.22 569.98,167.50 570.85,167.78 571.72,168.05 572.59,168.31 573.46,168.57 574.33,168.83 575.20,169.08 576.07,169.32 576.93,169.56 577.80,169.79 578.67,170.02 579.54,170.25 580.41,170.47 581.28,170.69 582.15,170.90 583.02,171.11 583.89,171.31 584.76,171.51 585.62,171.71 586.49,171.91 587.36,172.10 588.23,172.29 589.10,172.47 589.97,172.65 590.84,172.83 591.71,173.01 592.58,173.18 593.45,173.35 594.31,173.52 595.18,173.68 596.05,173.84 596.92,174.00 597.79,174.16 598.66,174.31 599.53,174.46 600.40,174.61 601.27,174.76 602.14,174.91 603.00,175.05 603.87,175.19 604.74,175.33 605.61,175.47 606.48,175.60 607.35,175.74 608.22,175.87 609.09,176.00 609.96,176.13 610.83,176.25 611.69,176.38 612.56,176.50 613.43,176.62 614.30,176.74 615.17,176.86 616.04,176.98 616.91,177.09 617.78,177.20 618.65,177.32 619.52,177.43 620.38,177.54 621.25,177.64 622.12,177.75 622.99,177.86 623.86,177.96 624.73,178.06 625.60,178.17 626.47,178.27 627.34,178.37 628.21,178.46 629.07,178.56 629.94,178.66 630.81,178.75 631.68,178.84 632.55,178.94 633.42,179.03 634.29,179.12 635.16,179.21 636.03,179.30 636.90,179.38 637.76,179.47 638.63,179.56 639.50,179.64 640.37,179.72 641.24,179.81 642.11,179.89 642.98,179.97 643.85,180.05 644.72,180.13 645.59,180.21 646.45,180.29 647.32,180.36 648.19,180.44 649.06,180.52 649.93,180.59 650.80,180.67 651.67,180.74 652.54,180.81 653.41,180.88 654.28,180.95 655.14,181.02 656.01,181.09 656.88,181.16 657.75,181.23 658.62,181.30 659.49,181.37 660.36,181.43 661.23,181.50 662.10,181.57 662.97,181.63 663.83,181.69 664.70,181.76 665.57,181.82 666.44,181.88 667.31,181.95 668.18,182.01 669.05,182.07 669.92,182.13 670.79,182.19 671.66,182.25 672.52,182.31 673.39,182.36 674.26,182.42 675.13,182.48 676.00,182.54" fill="none" stroke="#ee7d26" stroke-width="1.0" clip-path="url(#cc)"/>
<line x1="524.4" y1="60.599999999999994" x2="524.4" y2="198.7" fill="none" stroke="#333" stroke-width="1.4" stroke-dasharray="6.6,3.4" stroke-dashoffset="7.5"/><line x1="524.4" y1="60.599999999999994" x2="545.7" y2="60.599999999999994" fill="none" stroke="#333" stroke-width="1.4" stroke-dasharray="6.6,3.4" stroke-dashoffset="9.1"/><line x1="545.7" y1="60.599999999999994" x2="545.7" y2="198.7" fill="none" stroke="#333" stroke-width="1.4" stroke-dasharray="6.6,3.4" stroke-dashoffset="9.7"/>
<path d="M502.2,60.3 V198.7 H676.0" fill="none" stroke="#7d7d7d" stroke-width="1.8"/>
<line x1="502.2" y1="198.70" x2="504.4" y2="198.70" stroke="#222" stroke-width="1"/>
<text transform="translate(488.0,203.20) scale(1,1.07)" text-anchor="middle" >0</text>
<line x1="502.2" y1="175.63" x2="504.4" y2="175.63" stroke="#222" stroke-width="1"/>
<text transform="translate(488.0,180.13) scale(1,1.07)" text-anchor="middle" >0.05</text>
<line x1="502.2" y1="152.57" x2="504.4" y2="152.57" stroke="#222" stroke-width="1"/>
<text transform="translate(488.0,157.07) scale(1,1.07)" text-anchor="middle" >0.1</text>
<line x1="502.2" y1="129.50" x2="504.4" y2="129.50" stroke="#222" stroke-width="1"/>
<text transform="translate(488.0,134.00) scale(1,1.07)" text-anchor="middle" >0.15</text>
<line x1="502.2" y1="106.43" x2="504.4" y2="106.43" stroke="#222" stroke-width="1"/>
<text transform="translate(488.0,110.93) scale(1,1.07)" text-anchor="middle" >0.2</text>
<line x1="502.2" y1="83.37" x2="504.4" y2="83.37" stroke="#222" stroke-width="1"/>
<text transform="translate(488.0,87.87) scale(1,1.07)" text-anchor="middle" >0.25</text>
<line x1="502.2" y1="60.30" x2="504.4" y2="60.30" stroke="#222" stroke-width="1"/>
<text transform="translate(488.0,64.80) scale(1,1.07)" text-anchor="middle" >0.3</text>
<line x1="502.20" y1="198.7" x2="502.20" y2="196.5" stroke="#222" stroke-width="1"/>
<text transform="translate(501.70,211.5) scale(1,1.07)" text-anchor="middle" >0</text>
<line x1="523.88" y1="198.7" x2="523.88" y2="196.5" stroke="#222" stroke-width="1"/>
<text transform="translate(524.40,211.5) scale(1,1.07)" text-anchor="middle" >25</text>
<line x1="545.55" y1="198.7" x2="545.55" y2="196.5" stroke="#222" stroke-width="1"/>
<text transform="translate(545.60,211.5) scale(1,1.07)" text-anchor="middle" >50</text>
<line x1="588.90" y1="198.7" x2="588.90" y2="196.5" stroke="#222" stroke-width="1"/>
<text transform="translate(590.00,211.5) scale(1,1.07)" text-anchor="middle" >100</text>
<line x1="632.25" y1="198.7" x2="632.25" y2="196.5" stroke="#222" stroke-width="1"/>
<text transform="translate(633.60,211.5) scale(1,1.07)" text-anchor="middle" >150</text>
<line x1="675.60" y1="198.7" x2="675.60" y2="196.5" stroke="#222" stroke-width="1"/>
<text transform="translate(676.80,211.5) scale(1,1.07)" text-anchor="middle" >200</text>
<text transform="translate(591.0,227.6) scale(1,1.07)" text-anchor="middle" ><tspan font-style="italic">D</tspan> (m)</text>
<text transform="translate(591.0,246.2) scale(1,1.07)" text-anchor="middle" >(c) <tspan font-style="italic">l</tspan><tspan font-style="italic" font-size="6.8" dy="2.0">3</tspan></text>
<text transform="translate(469.5,129.7) rotate(-90) scale(1.035,1.07)" text-anchor="middle"><tspan font-style="italic">PPV</tspan> (mm/s)</text>
</svg>
</body></html>
